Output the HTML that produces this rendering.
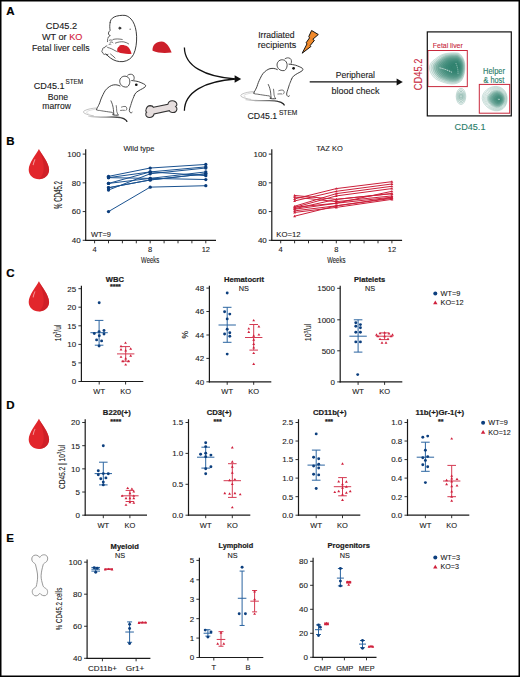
<!DOCTYPE html>
<html><head><meta charset="utf-8"><style>
html,body{margin:0;padding:0;background:#fff;overflow:hidden;}
svg{display:block;}
text{font-family:"Liberation Sans", sans-serif;}
</style></head><body>
<svg width="520" height="677" viewBox="0 0 520 677" font-family='"Liberation Sans", sans-serif'>
<rect x="0" y="0" width="520" height="677" fill="#fff"/>
<line x1="85.70" y1="149.30" x2="85.70" y2="240.90" stroke="#1a1a1a" stroke-width="1.2"/>
<line x1="82.70" y1="154.10" x2="85.70" y2="154.10" stroke="#1a1a1a" stroke-width="0.9"/>
<text x="80.70" y="156.95" font-size="8" text-anchor="end" fill="#1a1a1a" stroke="#1a1a1a" stroke-width="0.1">100</text>
<line x1="82.70" y1="182.83" x2="85.70" y2="182.83" stroke="#1a1a1a" stroke-width="0.9"/>
<text x="80.70" y="185.68" font-size="8" text-anchor="end" fill="#1a1a1a" stroke="#1a1a1a" stroke-width="0.1">80</text>
<line x1="82.70" y1="211.57" x2="85.70" y2="211.57" stroke="#1a1a1a" stroke-width="0.9"/>
<text x="80.70" y="214.42" font-size="8" text-anchor="end" fill="#1a1a1a" stroke="#1a1a1a" stroke-width="0.1">60</text>
<line x1="82.70" y1="240.30" x2="85.70" y2="240.30" stroke="#1a1a1a" stroke-width="0.9"/>
<text x="80.70" y="243.15" font-size="8" text-anchor="end" fill="#1a1a1a" stroke="#1a1a1a" stroke-width="0.1">40</text>
<line x1="85.10" y1="240.30" x2="216.00" y2="240.30" stroke="#1a1a1a" stroke-width="1.2"/>
<line x1="94.60" y1="240.30" x2="94.60" y2="243.30" stroke="#1a1a1a" stroke-width="0.9"/>
<line x1="108.50" y1="240.30" x2="108.50" y2="243.30" stroke="#1a1a1a" stroke-width="0.9"/>
<line x1="122.40" y1="240.30" x2="122.40" y2="243.30" stroke="#1a1a1a" stroke-width="0.9"/>
<line x1="136.30" y1="240.30" x2="136.30" y2="243.30" stroke="#1a1a1a" stroke-width="0.9"/>
<line x1="150.20" y1="240.30" x2="150.20" y2="243.30" stroke="#1a1a1a" stroke-width="0.9"/>
<line x1="164.10" y1="240.30" x2="164.10" y2="243.30" stroke="#1a1a1a" stroke-width="0.9"/>
<line x1="178.00" y1="240.30" x2="178.00" y2="243.30" stroke="#1a1a1a" stroke-width="0.9"/>
<line x1="191.90" y1="240.30" x2="191.90" y2="243.30" stroke="#1a1a1a" stroke-width="0.9"/>
<line x1="205.80" y1="240.30" x2="205.80" y2="243.30" stroke="#1a1a1a" stroke-width="0.9"/>
<text x="94.60" y="252.00" font-size="7.5" text-anchor="middle" fill="#1a1a1a" stroke="#1a1a1a" stroke-width="0.1">4</text>
<text x="150.20" y="252.00" font-size="7.5" text-anchor="middle" fill="#1a1a1a" stroke="#1a1a1a" stroke-width="0.1">8</text>
<text x="205.80" y="252.00" font-size="7.5" text-anchor="middle" fill="#1a1a1a" stroke="#1a1a1a" stroke-width="0.1">12</text>
<text x="150.20" y="263.00" font-size="8.6" text-anchor="middle" fill="#1a1a1a" stroke="#1a1a1a" stroke-width="0.1" textLength="18.2" lengthAdjust="spacingAndGlyphs">Weeks</text>
<text x="139.00" y="150.80" font-size="8" text-anchor="middle" fill="#1a1a1a" stroke="#1a1a1a" stroke-width="0.1" textLength="31" lengthAdjust="spacingAndGlyphs">Wild type</text>
<text x="91.00" y="236.60" font-size="7.5" text-anchor="start" fill="#1a1a1a" stroke="#1a1a1a" stroke-width="0.1" textLength="20" lengthAdjust="spacingAndGlyphs">WT=9</text>
<text x="61.70" y="195.00" font-size="10" text-anchor="middle" fill="#1a1a1a" stroke="#1a1a1a" stroke-width="0.1" textLength="28" lengthAdjust="spacingAndGlyphs" transform="rotate(-90 61.70 195)">% CD45.2</text>
<polyline points="108.50,211.57 150.20,187.14 205.80,185.71" fill="none" stroke="#1a5290" stroke-width="1.0"/>
<polyline points="108.50,176.37 150.20,168.03 205.80,164.44" fill="none" stroke="#1a5290" stroke-width="1.0"/>
<polyline points="108.50,177.66 150.20,171.91 205.80,166.88" fill="none" stroke="#1a5290" stroke-width="1.0"/>
<polyline points="108.50,183.41 150.20,178.38 205.80,171.91" fill="none" stroke="#1a5290" stroke-width="1.0"/>
<polyline points="108.50,187.72 150.20,179.96 205.80,173.78" fill="none" stroke="#1a5290" stroke-width="1.0"/>
<polyline points="108.50,190.02 150.20,173.78 205.80,168.03" fill="none" stroke="#1a5290" stroke-width="1.0"/>
<polyline points="108.50,177.66 150.20,178.38 205.80,179.53" fill="none" stroke="#1a5290" stroke-width="1.0"/>
<polyline points="108.50,183.41 150.20,171.91 205.80,175.65" fill="none" stroke="#1a5290" stroke-width="1.0"/>
<polyline points="108.50,187.72 150.20,179.96 205.80,173.78" fill="none" stroke="#1a5290" stroke-width="1.0"/>
<circle cx="108.50" cy="211.57" r="1.65" fill="#0b3d7c"/>
<circle cx="150.20" cy="187.14" r="1.65" fill="#0b3d7c"/>
<circle cx="205.80" cy="185.71" r="1.65" fill="#0b3d7c"/>
<circle cx="108.50" cy="176.37" r="1.65" fill="#0b3d7c"/>
<circle cx="150.20" cy="168.03" r="1.65" fill="#0b3d7c"/>
<circle cx="205.80" cy="164.44" r="1.65" fill="#0b3d7c"/>
<circle cx="108.50" cy="177.66" r="1.65" fill="#0b3d7c"/>
<circle cx="150.20" cy="171.91" r="1.65" fill="#0b3d7c"/>
<circle cx="205.80" cy="166.88" r="1.65" fill="#0b3d7c"/>
<circle cx="108.50" cy="183.41" r="1.65" fill="#0b3d7c"/>
<circle cx="150.20" cy="178.38" r="1.65" fill="#0b3d7c"/>
<circle cx="205.80" cy="171.91" r="1.65" fill="#0b3d7c"/>
<circle cx="108.50" cy="187.72" r="1.65" fill="#0b3d7c"/>
<circle cx="150.20" cy="179.96" r="1.65" fill="#0b3d7c"/>
<circle cx="205.80" cy="173.78" r="1.65" fill="#0b3d7c"/>
<circle cx="108.50" cy="190.02" r="1.65" fill="#0b3d7c"/>
<circle cx="150.20" cy="173.78" r="1.65" fill="#0b3d7c"/>
<circle cx="205.80" cy="168.03" r="1.65" fill="#0b3d7c"/>
<circle cx="108.50" cy="177.66" r="1.65" fill="#0b3d7c"/>
<circle cx="150.20" cy="178.38" r="1.65" fill="#0b3d7c"/>
<circle cx="205.80" cy="179.53" r="1.65" fill="#0b3d7c"/>
<circle cx="108.50" cy="183.41" r="1.65" fill="#0b3d7c"/>
<circle cx="150.20" cy="171.91" r="1.65" fill="#0b3d7c"/>
<circle cx="205.80" cy="175.65" r="1.65" fill="#0b3d7c"/>
<circle cx="108.50" cy="187.72" r="1.65" fill="#0b3d7c"/>
<circle cx="150.20" cy="179.96" r="1.65" fill="#0b3d7c"/>
<circle cx="205.80" cy="173.78" r="1.65" fill="#0b3d7c"/>
<line x1="271.80" y1="149.30" x2="271.80" y2="240.90" stroke="#1a1a1a" stroke-width="1.2"/>
<line x1="268.80" y1="154.10" x2="271.80" y2="154.10" stroke="#1a1a1a" stroke-width="0.9"/>
<text x="266.80" y="156.95" font-size="8" text-anchor="end" fill="#1a1a1a" stroke="#1a1a1a" stroke-width="0.1">100</text>
<line x1="268.80" y1="182.83" x2="271.80" y2="182.83" stroke="#1a1a1a" stroke-width="0.9"/>
<text x="266.80" y="185.68" font-size="8" text-anchor="end" fill="#1a1a1a" stroke="#1a1a1a" stroke-width="0.1">80</text>
<line x1="268.80" y1="211.57" x2="271.80" y2="211.57" stroke="#1a1a1a" stroke-width="0.9"/>
<text x="266.80" y="214.42" font-size="8" text-anchor="end" fill="#1a1a1a" stroke="#1a1a1a" stroke-width="0.1">60</text>
<line x1="268.80" y1="240.30" x2="271.80" y2="240.30" stroke="#1a1a1a" stroke-width="0.9"/>
<text x="266.80" y="243.15" font-size="8" text-anchor="end" fill="#1a1a1a" stroke="#1a1a1a" stroke-width="0.1">40</text>
<line x1="271.20" y1="240.30" x2="402.10" y2="240.30" stroke="#1a1a1a" stroke-width="1.2"/>
<line x1="280.70" y1="240.30" x2="280.70" y2="243.30" stroke="#1a1a1a" stroke-width="0.9"/>
<line x1="294.60" y1="240.30" x2="294.60" y2="243.30" stroke="#1a1a1a" stroke-width="0.9"/>
<line x1="308.50" y1="240.30" x2="308.50" y2="243.30" stroke="#1a1a1a" stroke-width="0.9"/>
<line x1="322.40" y1="240.30" x2="322.40" y2="243.30" stroke="#1a1a1a" stroke-width="0.9"/>
<line x1="336.30" y1="240.30" x2="336.30" y2="243.30" stroke="#1a1a1a" stroke-width="0.9"/>
<line x1="350.20" y1="240.30" x2="350.20" y2="243.30" stroke="#1a1a1a" stroke-width="0.9"/>
<line x1="364.10" y1="240.30" x2="364.10" y2="243.30" stroke="#1a1a1a" stroke-width="0.9"/>
<line x1="378.00" y1="240.30" x2="378.00" y2="243.30" stroke="#1a1a1a" stroke-width="0.9"/>
<line x1="391.90" y1="240.30" x2="391.90" y2="243.30" stroke="#1a1a1a" stroke-width="0.9"/>
<text x="280.70" y="252.00" font-size="7.5" text-anchor="middle" fill="#1a1a1a" stroke="#1a1a1a" stroke-width="0.1">4</text>
<text x="336.30" y="252.00" font-size="7.5" text-anchor="middle" fill="#1a1a1a" stroke="#1a1a1a" stroke-width="0.1">8</text>
<text x="391.90" y="252.00" font-size="7.5" text-anchor="middle" fill="#1a1a1a" stroke="#1a1a1a" stroke-width="0.1">12</text>
<text x="336.30" y="263.00" font-size="8.6" text-anchor="middle" fill="#1a1a1a" stroke="#1a1a1a" stroke-width="0.1" textLength="18.2" lengthAdjust="spacingAndGlyphs">Weeks</text>
<text x="329.50" y="150.80" font-size="8" text-anchor="middle" fill="#1a1a1a" stroke="#1a1a1a" stroke-width="0.1" textLength="26.5" lengthAdjust="spacingAndGlyphs">TAZ KO</text>
<text x="276.30" y="236.60" font-size="7.5" text-anchor="start" fill="#1a1a1a" stroke="#1a1a1a" stroke-width="0.1" textLength="24.3" lengthAdjust="spacingAndGlyphs">KO=12</text>
<polyline points="294.60,195.47 336.30,199.35 391.90,193.61" fill="none" stroke="#cc1f3a" stroke-width="1.0"/>
<polyline points="294.60,197.06 336.30,201.65 391.90,195.91" fill="none" stroke="#cc1f3a" stroke-width="1.0"/>
<polyline points="294.60,198.92 336.30,188.58 391.90,181.68" fill="none" stroke="#cc1f3a" stroke-width="1.0"/>
<polyline points="294.60,200.93 336.30,191.31 391.90,183.98" fill="none" stroke="#cc1f3a" stroke-width="1.0"/>
<polyline points="294.60,206.25 336.30,193.61 391.90,186.28" fill="none" stroke="#cc1f3a" stroke-width="1.0"/>
<polyline points="294.60,207.40 336.30,195.91 391.90,188.58" fill="none" stroke="#cc1f3a" stroke-width="1.0"/>
<polyline points="294.60,209.27 336.30,203.23 391.90,191.31" fill="none" stroke="#cc1f3a" stroke-width="1.0"/>
<polyline points="294.60,210.85 336.30,205.82 391.90,197.63" fill="none" stroke="#cc1f3a" stroke-width="1.0"/>
<polyline points="294.60,212.43 336.30,207.40 391.90,199.35" fill="none" stroke="#cc1f3a" stroke-width="1.0"/>
<polyline points="294.60,208.69 336.30,199.35 391.90,193.61" fill="none" stroke="#cc1f3a" stroke-width="1.0"/>
<polyline points="294.60,207.26 336.30,203.23 391.90,197.20" fill="none" stroke="#cc1f3a" stroke-width="1.0"/>
<polyline points="294.60,216.16 336.30,205.82 391.90,198.35" fill="none" stroke="#cc1f3a" stroke-width="1.0"/>
<path d="M294.60,194.11L296.03,196.51L293.17,196.51Z" fill="#cc1f3a"/>
<path d="M336.30,197.99L337.73,200.39L334.87,200.39Z" fill="#cc1f3a"/>
<path d="M391.90,192.24L393.33,194.65L390.47,194.65Z" fill="#cc1f3a"/>
<path d="M294.60,195.69L296.03,198.10L293.17,198.10Z" fill="#cc1f3a"/>
<path d="M336.30,200.29L337.73,202.69L334.87,202.69Z" fill="#cc1f3a"/>
<path d="M391.90,194.54L393.33,196.95L390.47,196.95Z" fill="#cc1f3a"/>
<path d="M294.60,197.56L296.03,199.96L293.17,199.96Z" fill="#cc1f3a"/>
<path d="M336.30,187.21L337.73,189.62L334.87,189.62Z" fill="#cc1f3a"/>
<path d="M391.90,180.32L393.33,182.72L390.47,182.72Z" fill="#cc1f3a"/>
<path d="M294.60,199.57L296.03,201.97L293.17,201.97Z" fill="#cc1f3a"/>
<path d="M336.30,189.94L337.73,192.35L334.87,192.35Z" fill="#cc1f3a"/>
<path d="M391.90,182.62L393.33,185.02L390.47,185.02Z" fill="#cc1f3a"/>
<path d="M294.60,204.89L296.03,207.29L293.17,207.29Z" fill="#cc1f3a"/>
<path d="M336.30,192.24L337.73,194.65L334.87,194.65Z" fill="#cc1f3a"/>
<path d="M391.90,184.92L393.33,187.32L390.47,187.32Z" fill="#cc1f3a"/>
<path d="M294.60,206.03L296.03,208.44L293.17,208.44Z" fill="#cc1f3a"/>
<path d="M336.30,194.54L337.73,196.95L334.87,196.95Z" fill="#cc1f3a"/>
<path d="M391.90,187.21L393.33,189.62L390.47,189.62Z" fill="#cc1f3a"/>
<path d="M294.60,207.90L296.03,210.31L293.17,210.31Z" fill="#cc1f3a"/>
<path d="M336.30,201.87L337.73,204.27L334.87,204.27Z" fill="#cc1f3a"/>
<path d="M391.90,189.94L393.33,192.35L390.47,192.35Z" fill="#cc1f3a"/>
<path d="M294.60,209.48L296.03,211.89L293.17,211.89Z" fill="#cc1f3a"/>
<path d="M336.30,204.45L337.73,206.86L334.87,206.86Z" fill="#cc1f3a"/>
<path d="M391.90,196.27L393.33,198.67L390.47,198.67Z" fill="#cc1f3a"/>
<path d="M294.60,211.06L296.03,213.47L293.17,213.47Z" fill="#cc1f3a"/>
<path d="M336.30,206.03L337.73,208.44L334.87,208.44Z" fill="#cc1f3a"/>
<path d="M391.90,197.99L393.33,200.39L390.47,200.39Z" fill="#cc1f3a"/>
<path d="M294.60,207.33L296.03,209.73L293.17,209.73Z" fill="#cc1f3a"/>
<path d="M336.30,197.99L337.73,200.39L334.87,200.39Z" fill="#cc1f3a"/>
<path d="M391.90,192.24L393.33,194.65L390.47,194.65Z" fill="#cc1f3a"/>
<path d="M294.60,205.89L296.03,208.30L293.17,208.30Z" fill="#cc1f3a"/>
<path d="M336.30,201.87L337.73,204.27L334.87,204.27Z" fill="#cc1f3a"/>
<path d="M391.90,195.83L393.33,198.24L390.47,198.24Z" fill="#cc1f3a"/>
<path d="M294.60,214.80L296.03,217.20L293.17,217.20Z" fill="#cc1f3a"/>
<path d="M336.30,204.45L337.73,206.86L334.87,206.86Z" fill="#cc1f3a"/>
<path d="M391.90,196.98L393.33,199.39L390.47,199.39Z" fill="#cc1f3a"/>
<line x1="81.40" y1="285.80" x2="81.40" y2="382.10" stroke="#1a1a1a" stroke-width="1.2"/>
<line x1="78.40" y1="288.70" x2="81.40" y2="288.70" stroke="#1a1a1a" stroke-width="0.9"/>
<text x="76.20" y="291.55" font-size="8" text-anchor="end" fill="#1a1a1a" stroke="#1a1a1a" stroke-width="0.1">25</text>
<line x1="78.40" y1="307.20" x2="81.40" y2="307.20" stroke="#1a1a1a" stroke-width="0.9"/>
<text x="76.20" y="310.05" font-size="8" text-anchor="end" fill="#1a1a1a" stroke="#1a1a1a" stroke-width="0.1">20</text>
<line x1="78.40" y1="325.80" x2="81.40" y2="325.80" stroke="#1a1a1a" stroke-width="0.9"/>
<text x="76.20" y="328.65" font-size="8" text-anchor="end" fill="#1a1a1a" stroke="#1a1a1a" stroke-width="0.1">15</text>
<line x1="78.40" y1="344.40" x2="81.40" y2="344.40" stroke="#1a1a1a" stroke-width="0.9"/>
<text x="76.20" y="347.25" font-size="8" text-anchor="end" fill="#1a1a1a" stroke="#1a1a1a" stroke-width="0.1">10</text>
<line x1="78.40" y1="362.90" x2="81.40" y2="362.90" stroke="#1a1a1a" stroke-width="0.9"/>
<text x="76.20" y="365.75" font-size="8" text-anchor="end" fill="#1a1a1a" stroke="#1a1a1a" stroke-width="0.1">5</text>
<line x1="78.40" y1="381.50" x2="81.40" y2="381.50" stroke="#1a1a1a" stroke-width="0.9"/>
<text x="76.20" y="384.35" font-size="8" text-anchor="end" fill="#1a1a1a" stroke="#1a1a1a" stroke-width="0.1">0</text>
<line x1="80.80" y1="381.50" x2="143.30" y2="381.50" stroke="#1a1a1a" stroke-width="1.2"/>
<line x1="99.20" y1="381.50" x2="99.20" y2="384.50" stroke="#1a1a1a" stroke-width="0.9"/>
<line x1="125.60" y1="381.50" x2="125.60" y2="384.50" stroke="#1a1a1a" stroke-width="0.9"/>
<text x="114.90" y="281.90" font-size="7.6" text-anchor="middle" font-weight="bold" fill="#1a1a1a" stroke="#1a1a1a" stroke-width="0.2" textLength="18.2" lengthAdjust="spacingAndGlyphs">WBC</text>
<text x="115.40" y="289.10" font-size="7" text-anchor="middle" font-weight="bold" fill="#1a1a1a" stroke="#1a1a1a" stroke-width="0.2">****</text>
<text x="99.20" y="393.70" font-size="7.5" text-anchor="middle" fill="#1a1a1a" stroke="#1a1a1a" stroke-width="0.1">WT</text>
<text x="125.60" y="393.70" font-size="7.5" text-anchor="middle" fill="#1a1a1a" stroke="#1a1a1a" stroke-width="0.1">KO</text>
<line x1="99.10" y1="320.40" x2="99.10" y2="345.20" stroke="#2a64a0" stroke-width="1.0"/>
<line x1="90.40" y1="332.70" x2="107.80" y2="332.70" stroke="#2a64a0" stroke-width="1.0"/>
<line x1="94.80" y1="320.40" x2="103.40" y2="320.40" stroke="#2a64a0" stroke-width="1.0"/>
<line x1="94.80" y1="345.20" x2="103.40" y2="345.20" stroke="#2a64a0" stroke-width="1.0"/>
<circle cx="99.20" cy="302.80" r="1.45" fill="#0c3f7e"/>
<circle cx="94.30" cy="333.50" r="1.45" fill="#0c3f7e"/>
<circle cx="99.10" cy="331.60" r="1.45" fill="#0c3f7e"/>
<circle cx="104.00" cy="330.50" r="1.45" fill="#0c3f7e"/>
<circle cx="104.00" cy="334.00" r="1.45" fill="#0c3f7e"/>
<circle cx="99.30" cy="335.80" r="1.45" fill="#0c3f7e"/>
<circle cx="96.60" cy="339.90" r="1.45" fill="#0c3f7e"/>
<circle cx="101.60" cy="340.90" r="1.45" fill="#0c3f7e"/>
<circle cx="99.10" cy="346.00" r="1.45" fill="#0c3f7e"/>
<line x1="125.70" y1="346.60" x2="125.70" y2="361.20" stroke="#d43a52" stroke-width="1.0"/>
<line x1="117.00" y1="353.90" x2="134.40" y2="353.90" stroke="#d43a52" stroke-width="1.0"/>
<line x1="121.40" y1="346.60" x2="130.00" y2="346.60" stroke="#d43a52" stroke-width="1.0"/>
<line x1="121.40" y1="361.20" x2="130.00" y2="361.20" stroke="#d43a52" stroke-width="1.0"/>
<path d="M125.50,341.44L126.93,343.84L124.07,343.84Z" fill="#d0203c"/>
<path d="M121.00,344.83L122.43,347.24L119.57,347.24Z" fill="#d0203c"/>
<path d="M130.70,347.24L132.13,349.64L129.27,349.64Z" fill="#d0203c"/>
<path d="M121.00,348.03L122.43,350.44L119.57,350.44Z" fill="#d0203c"/>
<path d="M125.70,349.03L127.13,351.44L124.27,351.44Z" fill="#d0203c"/>
<path d="M121.00,355.44L122.43,357.84L119.57,357.84Z" fill="#d0203c"/>
<path d="M130.70,354.33L132.13,356.74L129.27,356.74Z" fill="#d0203c"/>
<path d="M125.70,357.03L127.13,359.44L124.27,359.44Z" fill="#d0203c"/>
<path d="M122.90,359.83L124.33,362.24L121.47,362.24Z" fill="#d0203c"/>
<path d="M128.40,359.83L129.83,362.24L126.97,362.24Z" fill="#d0203c"/>
<path d="M125.70,363.13L127.13,365.54L124.27,365.54Z" fill="#d0203c"/>
<line x1="209.40" y1="285.80" x2="209.40" y2="382.40" stroke="#1a1a1a" stroke-width="1.2"/>
<line x1="206.40" y1="288.10" x2="209.40" y2="288.10" stroke="#1a1a1a" stroke-width="0.9"/>
<text x="204.20" y="290.95" font-size="8" text-anchor="end" fill="#1a1a1a" stroke="#1a1a1a" stroke-width="0.1">48</text>
<line x1="206.40" y1="311.50" x2="209.40" y2="311.50" stroke="#1a1a1a" stroke-width="0.9"/>
<text x="204.20" y="314.35" font-size="8" text-anchor="end" fill="#1a1a1a" stroke="#1a1a1a" stroke-width="0.1">46</text>
<line x1="206.40" y1="335.00" x2="209.40" y2="335.00" stroke="#1a1a1a" stroke-width="0.9"/>
<text x="204.20" y="337.85" font-size="8" text-anchor="end" fill="#1a1a1a" stroke="#1a1a1a" stroke-width="0.1">44</text>
<line x1="206.40" y1="358.40" x2="209.40" y2="358.40" stroke="#1a1a1a" stroke-width="0.9"/>
<text x="204.20" y="361.25" font-size="8" text-anchor="end" fill="#1a1a1a" stroke="#1a1a1a" stroke-width="0.1">42</text>
<line x1="206.40" y1="381.80" x2="209.40" y2="381.80" stroke="#1a1a1a" stroke-width="0.9"/>
<text x="204.20" y="384.65" font-size="8" text-anchor="end" fill="#1a1a1a" stroke="#1a1a1a" stroke-width="0.1">40</text>
<line x1="208.80" y1="381.80" x2="271.30" y2="381.80" stroke="#1a1a1a" stroke-width="1.2"/>
<line x1="227.20" y1="381.80" x2="227.20" y2="384.80" stroke="#1a1a1a" stroke-width="0.9"/>
<line x1="253.70" y1="381.80" x2="253.70" y2="384.80" stroke="#1a1a1a" stroke-width="0.9"/>
<text x="244.00" y="281.90" font-size="7.6" text-anchor="middle" font-weight="bold" fill="#1a1a1a" stroke="#1a1a1a" stroke-width="0.2" textLength="40" lengthAdjust="spacingAndGlyphs">Hematocrit</text>
<text x="243.80" y="290.90" font-size="7.3" text-anchor="middle" fill="#1a1a1a" stroke="#1a1a1a" stroke-width="0.1">NS</text>
<text x="227.20" y="393.70" font-size="7.5" text-anchor="middle" fill="#1a1a1a" stroke="#1a1a1a" stroke-width="0.1">WT</text>
<text x="253.70" y="393.70" font-size="7.5" text-anchor="middle" fill="#1a1a1a" stroke="#1a1a1a" stroke-width="0.1">KO</text>
<line x1="227.20" y1="307.30" x2="227.20" y2="342.30" stroke="#2a64a0" stroke-width="1.0"/>
<line x1="218.50" y1="325.00" x2="235.90" y2="325.00" stroke="#2a64a0" stroke-width="1.0"/>
<line x1="222.90" y1="307.30" x2="231.50" y2="307.30" stroke="#2a64a0" stroke-width="1.0"/>
<line x1="222.90" y1="342.30" x2="231.50" y2="342.30" stroke="#2a64a0" stroke-width="1.0"/>
<circle cx="227.20" cy="293.00" r="1.45" fill="#0c3f7e"/>
<circle cx="224.60" cy="311.70" r="1.45" fill="#0c3f7e"/>
<circle cx="229.80" cy="314.10" r="1.45" fill="#0c3f7e"/>
<circle cx="227.20" cy="318.90" r="1.45" fill="#0c3f7e"/>
<circle cx="227.20" cy="329.30" r="1.45" fill="#0c3f7e"/>
<circle cx="224.60" cy="334.00" r="1.45" fill="#0c3f7e"/>
<circle cx="229.80" cy="332.80" r="1.45" fill="#0c3f7e"/>
<circle cx="229.80" cy="336.20" r="1.45" fill="#0c3f7e"/>
<circle cx="227.20" cy="354.10" r="1.45" fill="#0c3f7e"/>
<line x1="253.70" y1="324.50" x2="253.70" y2="350.10" stroke="#d43a52" stroke-width="1.0"/>
<line x1="245.00" y1="337.50" x2="262.40" y2="337.50" stroke="#d43a52" stroke-width="1.0"/>
<line x1="249.40" y1="324.50" x2="258.00" y2="324.50" stroke="#d43a52" stroke-width="1.0"/>
<line x1="249.40" y1="350.10" x2="258.00" y2="350.10" stroke="#d43a52" stroke-width="1.0"/>
<path d="M253.70,318.94L255.13,321.34L252.27,321.34Z" fill="#d0203c"/>
<path d="M258.90,325.03L260.33,327.44L257.47,327.44Z" fill="#d0203c"/>
<path d="M248.80,327.13L250.23,329.54L247.37,329.54Z" fill="#d0203c"/>
<path d="M248.80,330.53L250.23,332.94L247.37,332.94Z" fill="#d0203c"/>
<path d="M258.90,333.13L260.33,335.54L257.47,335.54Z" fill="#d0203c"/>
<path d="M253.70,334.33L255.13,336.74L252.27,336.74Z" fill="#d0203c"/>
<path d="M253.70,338.33L255.13,340.74L252.27,340.74Z" fill="#d0203c"/>
<path d="M253.70,342.63L255.13,345.04L252.27,345.04Z" fill="#d0203c"/>
<path d="M253.70,346.13L255.13,348.54L252.27,348.54Z" fill="#d0203c"/>
<path d="M253.70,351.63L255.13,354.04L252.27,354.04Z" fill="#d0203c"/>
<path d="M253.70,362.53L255.13,364.94L252.27,364.94Z" fill="#d0203c"/>
<line x1="340.20" y1="285.80" x2="340.20" y2="382.50" stroke="#1a1a1a" stroke-width="1.2"/>
<line x1="337.20" y1="288.30" x2="340.20" y2="288.30" stroke="#1a1a1a" stroke-width="0.9"/>
<text x="335.00" y="291.15" font-size="8" text-anchor="end" fill="#1a1a1a" stroke="#1a1a1a" stroke-width="0.1">1500</text>
<line x1="337.20" y1="319.80" x2="340.20" y2="319.80" stroke="#1a1a1a" stroke-width="0.9"/>
<text x="335.00" y="322.65" font-size="8" text-anchor="end" fill="#1a1a1a" stroke="#1a1a1a" stroke-width="0.1">1000</text>
<line x1="337.20" y1="350.80" x2="340.20" y2="350.80" stroke="#1a1a1a" stroke-width="0.9"/>
<text x="335.00" y="353.65" font-size="8" text-anchor="end" fill="#1a1a1a" stroke="#1a1a1a" stroke-width="0.1">500</text>
<line x1="337.20" y1="381.90" x2="340.20" y2="381.90" stroke="#1a1a1a" stroke-width="0.9"/>
<text x="335.00" y="384.75" font-size="8" text-anchor="end" fill="#1a1a1a" stroke="#1a1a1a" stroke-width="0.1">0</text>
<line x1="339.60" y1="381.90" x2="402.30" y2="381.90" stroke="#1a1a1a" stroke-width="1.2"/>
<line x1="358.10" y1="381.90" x2="358.10" y2="384.90" stroke="#1a1a1a" stroke-width="0.9"/>
<line x1="384.60" y1="381.90" x2="384.60" y2="384.90" stroke="#1a1a1a" stroke-width="0.9"/>
<text x="369.60" y="281.90" font-size="7.6" text-anchor="middle" font-weight="bold" fill="#1a1a1a" stroke="#1a1a1a" stroke-width="0.2" textLength="31" lengthAdjust="spacingAndGlyphs">Platelets</text>
<text x="370.00" y="290.90" font-size="7.3" text-anchor="middle" fill="#1a1a1a" stroke="#1a1a1a" stroke-width="0.1">NS</text>
<text x="358.10" y="393.70" font-size="7.5" text-anchor="middle" fill="#1a1a1a" stroke="#1a1a1a" stroke-width="0.1">WT</text>
<text x="384.60" y="393.70" font-size="7.5" text-anchor="middle" fill="#1a1a1a" stroke="#1a1a1a" stroke-width="0.1">KO</text>
<line x1="358.10" y1="319.80" x2="358.10" y2="352.10" stroke="#2a64a0" stroke-width="1.0"/>
<line x1="349.40" y1="336.20" x2="366.80" y2="336.20" stroke="#2a64a0" stroke-width="1.0"/>
<line x1="353.80" y1="319.80" x2="362.40" y2="319.80" stroke="#2a64a0" stroke-width="1.0"/>
<line x1="353.80" y1="352.10" x2="362.40" y2="352.10" stroke="#2a64a0" stroke-width="1.0"/>
<circle cx="355.80" cy="322.70" r="1.45" fill="#0c3f7e"/>
<circle cx="360.40" cy="324.60" r="1.45" fill="#0c3f7e"/>
<circle cx="355.80" cy="326.20" r="1.45" fill="#0c3f7e"/>
<circle cx="360.40" cy="327.70" r="1.45" fill="#0c3f7e"/>
<circle cx="355.80" cy="332.30" r="1.45" fill="#0c3f7e"/>
<circle cx="360.40" cy="332.30" r="1.45" fill="#0c3f7e"/>
<circle cx="355.80" cy="341.90" r="1.45" fill="#0c3f7e"/>
<circle cx="360.40" cy="341.90" r="1.45" fill="#0c3f7e"/>
<circle cx="357.70" cy="374.60" r="1.45" fill="#0c3f7e"/>
<line x1="384.60" y1="332.90" x2="384.60" y2="339.60" stroke="#d43a52" stroke-width="1.0"/>
<line x1="375.90" y1="336.20" x2="393.30" y2="336.20" stroke="#d43a52" stroke-width="1.0"/>
<line x1="380.30" y1="332.90" x2="388.90" y2="332.90" stroke="#d43a52" stroke-width="1.0"/>
<line x1="380.30" y1="339.60" x2="388.90" y2="339.60" stroke="#d43a52" stroke-width="1.0"/>
<path d="M376.50,333.24L377.93,335.64L375.07,335.64Z" fill="#d0203c"/>
<path d="M380.00,331.83L381.43,334.24L378.57,334.24Z" fill="#d0203c"/>
<path d="M384.60,331.13L386.03,333.54L383.17,333.54Z" fill="#d0203c"/>
<path d="M389.00,332.03L390.43,334.44L387.57,334.44Z" fill="#d0203c"/>
<path d="M392.50,333.24L393.93,335.64L391.07,335.64Z" fill="#d0203c"/>
<path d="M378.00,334.94L379.43,337.34L376.57,337.34Z" fill="#d0203c"/>
<path d="M384.60,334.94L386.03,337.34L383.17,337.34Z" fill="#d0203c"/>
<path d="M391.00,334.94L392.43,337.34L389.57,337.34Z" fill="#d0203c"/>
<path d="M380.00,337.63L381.43,340.04L378.57,340.04Z" fill="#d0203c"/>
<path d="M388.00,337.44L389.43,339.84L386.57,339.84Z" fill="#d0203c"/>
<path d="M382.00,341.24L383.43,343.64L380.57,343.64Z" fill="#d0203c"/>
<path d="M386.00,341.24L387.43,343.64L384.57,343.64Z" fill="#d0203c"/>
<text transform="translate(61.0,333.0) rotate(-90) scale(0.687,1)" x="0" y="0" font-size="9.6" text-anchor="middle" fill="#1a1a1a" stroke="#1a1a1a" stroke-width="0.1">10<tspan font-size="6" dy="-3.6">3</tspan><tspan dy="3.6">/ul</tspan></text>
<text x="188.20" y="334.60" font-size="8.5" text-anchor="middle" fill="#1a1a1a" stroke="#1a1a1a" stroke-width="0.1" transform="rotate(-90 188.2 334.6)">%</text>
<text transform="translate(311.3,332.5) rotate(-90) scale(0.72,1)" x="0" y="0" font-size="9.6" text-anchor="middle" fill="#1a1a1a" stroke="#1a1a1a" stroke-width="0.1">10<tspan font-size="6" dy="-3.6">3</tspan><tspan dy="3.6">/ul</tspan></text>
<line x1="85.20" y1="419.20" x2="85.20" y2="515.80" stroke="#1a1a1a" stroke-width="1.2"/>
<line x1="82.20" y1="422.50" x2="85.20" y2="422.50" stroke="#1a1a1a" stroke-width="0.9"/>
<text x="80.00" y="425.35" font-size="8" text-anchor="end" fill="#1a1a1a" stroke="#1a1a1a" stroke-width="0.1">20</text>
<line x1="82.20" y1="445.68" x2="85.20" y2="445.68" stroke="#1a1a1a" stroke-width="0.9"/>
<text x="80.00" y="448.53" font-size="8" text-anchor="end" fill="#1a1a1a" stroke="#1a1a1a" stroke-width="0.1">15</text>
<line x1="82.20" y1="468.85" x2="85.20" y2="468.85" stroke="#1a1a1a" stroke-width="0.9"/>
<text x="80.00" y="471.70" font-size="8" text-anchor="end" fill="#1a1a1a" stroke="#1a1a1a" stroke-width="0.1">10</text>
<line x1="82.20" y1="492.03" x2="85.20" y2="492.03" stroke="#1a1a1a" stroke-width="0.9"/>
<text x="80.00" y="494.88" font-size="8" text-anchor="end" fill="#1a1a1a" stroke="#1a1a1a" stroke-width="0.1">5</text>
<line x1="82.20" y1="515.20" x2="85.20" y2="515.20" stroke="#1a1a1a" stroke-width="0.9"/>
<text x="80.00" y="518.05" font-size="8" text-anchor="end" fill="#1a1a1a" stroke="#1a1a1a" stroke-width="0.1">0</text>
<line x1="84.60" y1="515.20" x2="147.00" y2="515.20" stroke="#1a1a1a" stroke-width="1.2"/>
<line x1="103.30" y1="515.20" x2="103.30" y2="518.20" stroke="#1a1a1a" stroke-width="0.9"/>
<line x1="129.90" y1="515.20" x2="129.90" y2="518.20" stroke="#1a1a1a" stroke-width="0.9"/>
<text x="116.80" y="415.00" font-size="7.6" text-anchor="middle" font-weight="bold" fill="#1a1a1a" stroke="#1a1a1a" stroke-width="0.2" textLength="27.9" lengthAdjust="spacingAndGlyphs">B220(+)</text>
<text x="115.70" y="423.60" font-size="7" text-anchor="middle" font-weight="bold" fill="#1a1a1a" stroke="#1a1a1a" stroke-width="0.2">****</text>
<text x="103.30" y="528.20" font-size="7.5" text-anchor="middle" fill="#1a1a1a" stroke="#1a1a1a" stroke-width="0.1">WT</text>
<text x="129.90" y="528.20" font-size="7.5" text-anchor="middle" fill="#1a1a1a" stroke="#1a1a1a" stroke-width="0.1">KO</text>
<line x1="103.30" y1="462.20" x2="103.30" y2="484.90" stroke="#2a64a0" stroke-width="1.0"/>
<line x1="94.60" y1="473.60" x2="112.00" y2="473.60" stroke="#2a64a0" stroke-width="1.0"/>
<line x1="99.00" y1="462.20" x2="107.60" y2="462.20" stroke="#2a64a0" stroke-width="1.0"/>
<line x1="99.00" y1="484.90" x2="107.60" y2="484.90" stroke="#2a64a0" stroke-width="1.0"/>
<circle cx="103.30" cy="445.80" r="1.45" fill="#0c3f7e"/>
<circle cx="98.30" cy="470.80" r="1.45" fill="#0c3f7e"/>
<circle cx="98.30" cy="474.70" r="1.45" fill="#0c3f7e"/>
<circle cx="103.30" cy="473.60" r="1.45" fill="#0c3f7e"/>
<circle cx="108.30" cy="473.80" r="1.45" fill="#0c3f7e"/>
<circle cx="100.80" cy="478.80" r="1.45" fill="#0c3f7e"/>
<circle cx="105.90" cy="477.90" r="1.45" fill="#0c3f7e"/>
<circle cx="103.30" cy="482.10" r="1.45" fill="#0c3f7e"/>
<circle cx="103.30" cy="484.90" r="1.45" fill="#0c3f7e"/>
<line x1="129.90" y1="490.40" x2="129.90" y2="501.50" stroke="#d43a52" stroke-width="1.0"/>
<line x1="121.20" y1="495.80" x2="138.60" y2="495.80" stroke="#d43a52" stroke-width="1.0"/>
<line x1="125.60" y1="490.40" x2="134.20" y2="490.40" stroke="#d43a52" stroke-width="1.0"/>
<line x1="125.60" y1="501.50" x2="134.20" y2="501.50" stroke="#d43a52" stroke-width="1.0"/>
<path d="M127.70,486.63L129.13,489.04L126.27,489.04Z" fill="#d0203c"/>
<path d="M131.90,487.44L133.33,489.84L130.47,489.84Z" fill="#d0203c"/>
<path d="M133.80,490.13L135.23,492.54L132.37,492.54Z" fill="#d0203c"/>
<path d="M129.90,491.83L131.33,494.24L128.47,494.24Z" fill="#d0203c"/>
<path d="M122.20,494.44L123.63,496.84L120.77,496.84Z" fill="#d0203c"/>
<path d="M133.80,494.44L135.23,496.84L132.37,496.84Z" fill="#d0203c"/>
<path d="M126.00,496.83L127.43,499.24L124.57,499.24Z" fill="#d0203c"/>
<path d="M129.90,496.83L131.33,499.24L128.47,499.24Z" fill="#d0203c"/>
<path d="M133.80,496.83L135.23,499.24L132.37,499.24Z" fill="#d0203c"/>
<path d="M129.90,500.74L131.33,503.14L128.47,503.14Z" fill="#d0203c"/>
<path d="M133.80,501.44L135.23,503.84L132.37,503.84Z" fill="#d0203c"/>
<path d="M126.00,503.44L127.43,505.84L124.57,505.84Z" fill="#d0203c"/>
<line x1="188.50" y1="419.20" x2="188.50" y2="515.80" stroke="#1a1a1a" stroke-width="1.2"/>
<line x1="185.50" y1="422.50" x2="188.50" y2="422.50" stroke="#1a1a1a" stroke-width="0.9"/>
<text x="183.30" y="425.35" font-size="8" text-anchor="end" fill="#1a1a1a" stroke="#1a1a1a" stroke-width="0.1">1.5</text>
<line x1="185.50" y1="453.40" x2="188.50" y2="453.40" stroke="#1a1a1a" stroke-width="0.9"/>
<text x="183.30" y="456.25" font-size="8" text-anchor="end" fill="#1a1a1a" stroke="#1a1a1a" stroke-width="0.1">1.0</text>
<line x1="185.50" y1="484.30" x2="188.50" y2="484.30" stroke="#1a1a1a" stroke-width="0.9"/>
<text x="183.30" y="487.15" font-size="8" text-anchor="end" fill="#1a1a1a" stroke="#1a1a1a" stroke-width="0.1">0.5</text>
<line x1="185.50" y1="515.20" x2="188.50" y2="515.20" stroke="#1a1a1a" stroke-width="0.9"/>
<text x="183.30" y="518.05" font-size="8" text-anchor="end" fill="#1a1a1a" stroke="#1a1a1a" stroke-width="0.1">0.0</text>
<line x1="187.90" y1="515.20" x2="250.30" y2="515.20" stroke="#1a1a1a" stroke-width="1.2"/>
<line x1="205.70" y1="515.20" x2="205.70" y2="518.20" stroke="#1a1a1a" stroke-width="0.9"/>
<line x1="232.30" y1="515.20" x2="232.30" y2="518.20" stroke="#1a1a1a" stroke-width="0.9"/>
<text x="219.20" y="415.00" font-size="7.6" text-anchor="middle" font-weight="bold" fill="#1a1a1a" stroke="#1a1a1a" stroke-width="0.2" textLength="25" lengthAdjust="spacingAndGlyphs">CD3(+)</text>
<text x="217.70" y="423.60" font-size="7" text-anchor="middle" font-weight="bold" fill="#1a1a1a" stroke="#1a1a1a" stroke-width="0.2">***</text>
<text x="205.70" y="528.20" font-size="7.5" text-anchor="middle" fill="#1a1a1a" stroke="#1a1a1a" stroke-width="0.1">WT</text>
<text x="232.30" y="528.20" font-size="7.5" text-anchor="middle" fill="#1a1a1a" stroke="#1a1a1a" stroke-width="0.1">KO</text>
<line x1="205.70" y1="447.20" x2="205.70" y2="468.10" stroke="#2a64a0" stroke-width="1.0"/>
<line x1="197.00" y1="457.20" x2="214.40" y2="457.20" stroke="#2a64a0" stroke-width="1.0"/>
<line x1="201.40" y1="447.20" x2="210.00" y2="447.20" stroke="#2a64a0" stroke-width="1.0"/>
<line x1="201.40" y1="468.10" x2="210.00" y2="468.10" stroke="#2a64a0" stroke-width="1.0"/>
<circle cx="205.70" cy="442.70" r="1.45" fill="#0c3f7e"/>
<circle cx="205.70" cy="446.60" r="1.45" fill="#0c3f7e"/>
<circle cx="200.60" cy="454.30" r="1.45" fill="#0c3f7e"/>
<circle cx="205.70" cy="453.30" r="1.45" fill="#0c3f7e"/>
<circle cx="210.90" cy="455.10" r="1.45" fill="#0c3f7e"/>
<circle cx="205.70" cy="456.80" r="1.45" fill="#0c3f7e"/>
<circle cx="210.90" cy="466.70" r="1.45" fill="#0c3f7e"/>
<circle cx="205.70" cy="468.70" r="1.45" fill="#0c3f7e"/>
<circle cx="205.70" cy="473.70" r="1.45" fill="#0c3f7e"/>
<line x1="232.30" y1="463.70" x2="232.30" y2="497.40" stroke="#d43a52" stroke-width="1.0"/>
<line x1="223.60" y1="480.70" x2="241.00" y2="480.70" stroke="#d43a52" stroke-width="1.0"/>
<line x1="228.00" y1="463.70" x2="236.60" y2="463.70" stroke="#d43a52" stroke-width="1.0"/>
<line x1="228.00" y1="497.40" x2="236.60" y2="497.40" stroke="#d43a52" stroke-width="1.0"/>
<path d="M232.30,446.03L233.73,448.44L230.87,448.44Z" fill="#d0203c"/>
<path d="M232.30,460.24L233.73,462.64L230.87,462.64Z" fill="#d0203c"/>
<path d="M232.30,465.33L233.73,467.74L230.87,467.74Z" fill="#d0203c"/>
<path d="M232.30,471.24L233.73,473.64L230.87,473.64Z" fill="#d0203c"/>
<path d="M229.60,478.74L231.03,481.14L228.17,481.14Z" fill="#d0203c"/>
<path d="M234.90,477.94L236.33,480.34L233.47,480.34Z" fill="#d0203c"/>
<path d="M232.30,482.63L233.73,485.04L230.87,485.04Z" fill="#d0203c"/>
<path d="M224.80,491.74L226.23,494.14L223.37,494.14Z" fill="#d0203c"/>
<path d="M229.60,492.33L231.03,494.74L228.17,494.74Z" fill="#d0203c"/>
<path d="M234.90,491.74L236.33,494.14L233.47,494.14Z" fill="#d0203c"/>
<path d="M240.20,492.94L241.63,495.34L238.77,495.34Z" fill="#d0203c"/>
<path d="M232.30,505.94L233.73,508.34L230.87,508.34Z" fill="#d0203c"/>
<line x1="298.50" y1="419.20" x2="298.50" y2="515.80" stroke="#1a1a1a" stroke-width="1.2"/>
<line x1="295.50" y1="422.50" x2="298.50" y2="422.50" stroke="#1a1a1a" stroke-width="0.9"/>
<text x="293.30" y="425.35" font-size="8" text-anchor="end" fill="#1a1a1a" stroke="#1a1a1a" stroke-width="0.1">2.5</text>
<line x1="295.50" y1="441.04" x2="298.50" y2="441.04" stroke="#1a1a1a" stroke-width="0.9"/>
<text x="293.30" y="443.89" font-size="8" text-anchor="end" fill="#1a1a1a" stroke="#1a1a1a" stroke-width="0.1">2.0</text>
<line x1="295.50" y1="459.58" x2="298.50" y2="459.58" stroke="#1a1a1a" stroke-width="0.9"/>
<text x="293.30" y="462.43" font-size="8" text-anchor="end" fill="#1a1a1a" stroke="#1a1a1a" stroke-width="0.1">1.5</text>
<line x1="295.50" y1="478.12" x2="298.50" y2="478.12" stroke="#1a1a1a" stroke-width="0.9"/>
<text x="293.30" y="480.97" font-size="8" text-anchor="end" fill="#1a1a1a" stroke="#1a1a1a" stroke-width="0.1">1.0</text>
<line x1="295.50" y1="496.66" x2="298.50" y2="496.66" stroke="#1a1a1a" stroke-width="0.9"/>
<text x="293.30" y="499.51" font-size="8" text-anchor="end" fill="#1a1a1a" stroke="#1a1a1a" stroke-width="0.1">0.5</text>
<line x1="295.50" y1="515.20" x2="298.50" y2="515.20" stroke="#1a1a1a" stroke-width="0.9"/>
<text x="293.30" y="518.05" font-size="8" text-anchor="end" fill="#1a1a1a" stroke="#1a1a1a" stroke-width="0.1">0.0</text>
<line x1="297.90" y1="515.20" x2="360.30" y2="515.20" stroke="#1a1a1a" stroke-width="1.2"/>
<line x1="316.20" y1="515.20" x2="316.20" y2="518.20" stroke="#1a1a1a" stroke-width="0.9"/>
<line x1="342.50" y1="515.20" x2="342.50" y2="518.20" stroke="#1a1a1a" stroke-width="0.9"/>
<text x="329.70" y="415.00" font-size="7.6" text-anchor="middle" font-weight="bold" fill="#1a1a1a" stroke="#1a1a1a" stroke-width="0.2" textLength="33.6" lengthAdjust="spacingAndGlyphs">CD11b(+)</text>
<text x="329.00" y="423.60" font-size="7" text-anchor="middle" font-weight="bold" fill="#1a1a1a" stroke="#1a1a1a" stroke-width="0.2">***</text>
<text x="316.20" y="528.20" font-size="7.5" text-anchor="middle" fill="#1a1a1a" stroke="#1a1a1a" stroke-width="0.1">WT</text>
<text x="342.50" y="528.20" font-size="7.5" text-anchor="middle" fill="#1a1a1a" stroke="#1a1a1a" stroke-width="0.1">KO</text>
<line x1="316.20" y1="450.10" x2="316.20" y2="480.20" stroke="#2a64a0" stroke-width="1.0"/>
<line x1="307.50" y1="465.10" x2="324.90" y2="465.10" stroke="#2a64a0" stroke-width="1.0"/>
<line x1="311.90" y1="450.10" x2="320.50" y2="450.10" stroke="#2a64a0" stroke-width="1.0"/>
<line x1="311.90" y1="480.20" x2="320.50" y2="480.20" stroke="#2a64a0" stroke-width="1.0"/>
<circle cx="316.20" cy="433.90" r="1.45" fill="#0c3f7e"/>
<circle cx="313.60" cy="457.20" r="1.45" fill="#0c3f7e"/>
<circle cx="318.70" cy="458.70" r="1.45" fill="#0c3f7e"/>
<circle cx="313.60" cy="466.00" r="1.45" fill="#0c3f7e"/>
<circle cx="318.70" cy="464.30" r="1.45" fill="#0c3f7e"/>
<circle cx="318.70" cy="468.00" r="1.45" fill="#0c3f7e"/>
<circle cx="313.60" cy="474.30" r="1.45" fill="#0c3f7e"/>
<circle cx="318.70" cy="474.90" r="1.45" fill="#0c3f7e"/>
<circle cx="316.20" cy="488.50" r="1.45" fill="#0c3f7e"/>
<line x1="342.50" y1="477.60" x2="342.50" y2="495.80" stroke="#d43a52" stroke-width="1.0"/>
<line x1="333.80" y1="486.70" x2="351.20" y2="486.70" stroke="#d43a52" stroke-width="1.0"/>
<line x1="338.20" y1="477.60" x2="346.80" y2="477.60" stroke="#d43a52" stroke-width="1.0"/>
<line x1="338.20" y1="495.80" x2="346.80" y2="495.80" stroke="#d43a52" stroke-width="1.0"/>
<path d="M342.50,462.33L343.93,464.74L341.07,464.74Z" fill="#d0203c"/>
<path d="M338.70,480.03L340.13,482.44L337.27,482.44Z" fill="#d0203c"/>
<path d="M346.40,480.33L347.83,482.74L344.97,482.74Z" fill="#d0203c"/>
<path d="M342.50,482.74L343.93,485.14L341.07,485.14Z" fill="#d0203c"/>
<path d="M346.40,485.33L347.83,487.74L344.97,487.74Z" fill="#d0203c"/>
<path d="M342.50,486.24L343.93,488.64L341.07,488.64Z" fill="#d0203c"/>
<path d="M334.80,490.63L336.23,493.04L333.37,493.04Z" fill="#d0203c"/>
<path d="M338.70,489.74L340.13,492.14L337.27,492.14Z" fill="#d0203c"/>
<path d="M346.40,491.24L347.83,493.64L344.97,493.64Z" fill="#d0203c"/>
<path d="M350.20,489.83L351.63,492.24L348.77,492.24Z" fill="#d0203c"/>
<path d="M342.50,493.03L343.93,495.44L341.07,495.44Z" fill="#d0203c"/>
<path d="M342.50,498.53L343.93,500.94L341.07,500.94Z" fill="#d0203c"/>
<line x1="407.50" y1="419.20" x2="407.50" y2="515.80" stroke="#1a1a1a" stroke-width="1.2"/>
<line x1="404.50" y1="422.50" x2="407.50" y2="422.50" stroke="#1a1a1a" stroke-width="0.9"/>
<text x="402.30" y="425.35" font-size="8" text-anchor="end" fill="#1a1a1a" stroke="#1a1a1a" stroke-width="0.1">1.0</text>
<line x1="404.50" y1="441.04" x2="407.50" y2="441.04" stroke="#1a1a1a" stroke-width="0.9"/>
<text x="402.30" y="443.89" font-size="8" text-anchor="end" fill="#1a1a1a" stroke="#1a1a1a" stroke-width="0.1">0.8</text>
<line x1="404.50" y1="459.58" x2="407.50" y2="459.58" stroke="#1a1a1a" stroke-width="0.9"/>
<text x="402.30" y="462.43" font-size="8" text-anchor="end" fill="#1a1a1a" stroke="#1a1a1a" stroke-width="0.1">0.6</text>
<line x1="404.50" y1="478.12" x2="407.50" y2="478.12" stroke="#1a1a1a" stroke-width="0.9"/>
<text x="402.30" y="480.97" font-size="8" text-anchor="end" fill="#1a1a1a" stroke="#1a1a1a" stroke-width="0.1">0.4</text>
<line x1="404.50" y1="496.66" x2="407.50" y2="496.66" stroke="#1a1a1a" stroke-width="0.9"/>
<text x="402.30" y="499.51" font-size="8" text-anchor="end" fill="#1a1a1a" stroke="#1a1a1a" stroke-width="0.1">0.2</text>
<line x1="404.50" y1="515.20" x2="407.50" y2="515.20" stroke="#1a1a1a" stroke-width="0.9"/>
<text x="402.30" y="518.05" font-size="8" text-anchor="end" fill="#1a1a1a" stroke="#1a1a1a" stroke-width="0.1">0.0</text>
<line x1="406.90" y1="515.20" x2="469.30" y2="515.20" stroke="#1a1a1a" stroke-width="1.2"/>
<line x1="425.40" y1="515.20" x2="425.40" y2="518.20" stroke="#1a1a1a" stroke-width="0.9"/>
<line x1="451.70" y1="515.20" x2="451.70" y2="518.20" stroke="#1a1a1a" stroke-width="0.9"/>
<text x="439.90" y="415.00" font-size="7.6" text-anchor="middle" font-weight="bold" fill="#1a1a1a" stroke="#1a1a1a" stroke-width="0.2" textLength="48.6" lengthAdjust="spacingAndGlyphs">11b(+)Gr-1(+)</text>
<text x="440.80" y="423.60" font-size="7" text-anchor="middle" font-weight="bold" fill="#1a1a1a" stroke="#1a1a1a" stroke-width="0.2">**</text>
<text x="425.40" y="528.20" font-size="7.5" text-anchor="middle" fill="#1a1a1a" stroke="#1a1a1a" stroke-width="0.1">WT</text>
<text x="451.70" y="528.20" font-size="7.5" text-anchor="middle" fill="#1a1a1a" stroke="#1a1a1a" stroke-width="0.1">KO</text>
<line x1="425.40" y1="442.20" x2="425.40" y2="471.30" stroke="#2a64a0" stroke-width="1.0"/>
<line x1="416.70" y1="457.20" x2="434.10" y2="457.20" stroke="#2a64a0" stroke-width="1.0"/>
<line x1="421.10" y1="442.20" x2="429.70" y2="442.20" stroke="#2a64a0" stroke-width="1.0"/>
<line x1="421.10" y1="471.30" x2="429.70" y2="471.30" stroke="#2a64a0" stroke-width="1.0"/>
<circle cx="422.80" cy="437.30" r="1.45" fill="#0c3f7e"/>
<circle cx="427.70" cy="436.10" r="1.45" fill="#0c3f7e"/>
<circle cx="425.40" cy="450.30" r="1.45" fill="#0c3f7e"/>
<circle cx="422.80" cy="457.80" r="1.45" fill="#0c3f7e"/>
<circle cx="427.70" cy="456.60" r="1.45" fill="#0c3f7e"/>
<circle cx="425.40" cy="460.40" r="1.45" fill="#0c3f7e"/>
<circle cx="422.80" cy="464.80" r="1.45" fill="#0c3f7e"/>
<circle cx="427.70" cy="466.80" r="1.45" fill="#0c3f7e"/>
<circle cx="425.40" cy="482.60" r="1.45" fill="#0c3f7e"/>
<line x1="451.70" y1="465.40" x2="451.70" y2="496.70" stroke="#d43a52" stroke-width="1.0"/>
<line x1="443.00" y1="481.00" x2="460.40" y2="481.00" stroke="#d43a52" stroke-width="1.0"/>
<line x1="447.40" y1="465.40" x2="456.00" y2="465.40" stroke="#d43a52" stroke-width="1.0"/>
<line x1="447.40" y1="496.70" x2="456.00" y2="496.70" stroke="#d43a52" stroke-width="1.0"/>
<path d="M451.70,437.13L453.13,439.54L450.27,439.54Z" fill="#d0203c"/>
<path d="M451.70,474.44L453.13,476.84L450.27,476.84Z" fill="#d0203c"/>
<path d="M451.70,477.03L453.13,479.44L450.27,479.44Z" fill="#d0203c"/>
<path d="M446.60,478.83L448.03,481.24L445.17,481.24Z" fill="#d0203c"/>
<path d="M457.00,477.63L458.43,480.04L455.57,480.04Z" fill="#d0203c"/>
<path d="M451.70,480.03L453.13,482.44L450.27,482.44Z" fill="#d0203c"/>
<path d="M446.60,482.74L448.03,485.14L445.17,485.14Z" fill="#d0203c"/>
<path d="M457.00,484.13L458.43,486.54L455.57,486.54Z" fill="#d0203c"/>
<path d="M451.70,484.74L453.13,487.14L450.27,487.14Z" fill="#d0203c"/>
<path d="M451.70,490.03L453.13,492.44L450.27,492.44Z" fill="#d0203c"/>
<path d="M451.70,495.33L453.13,497.74L450.27,497.74Z" fill="#d0203c"/>
<path d="M451.70,499.24L453.13,501.64L450.27,501.64Z" fill="#d0203c"/>
<text transform="translate(64.8,467.0) rotate(-90) scale(0.687,1)" x="0" y="0" font-size="9.6" text-anchor="middle" fill="#1a1a1a" stroke="#1a1a1a" stroke-width="0.1">CD45.2 | 10<tspan font-size="6" dy="-3.6">3</tspan><tspan dy="3.6">/ul</tspan></text>
<line x1="87.10" y1="559.40" x2="87.10" y2="658.90" stroke="#1a1a1a" stroke-width="1.2"/>
<line x1="84.10" y1="562.15" x2="87.10" y2="562.15" stroke="#1a1a1a" stroke-width="0.9"/>
<text x="81.90" y="565.00" font-size="8" text-anchor="end" fill="#1a1a1a" stroke="#1a1a1a" stroke-width="0.1">100</text>
<line x1="84.10" y1="594.20" x2="87.10" y2="594.20" stroke="#1a1a1a" stroke-width="0.9"/>
<text x="81.90" y="597.05" font-size="8" text-anchor="end" fill="#1a1a1a" stroke="#1a1a1a" stroke-width="0.1">80</text>
<line x1="84.10" y1="626.25" x2="87.10" y2="626.25" stroke="#1a1a1a" stroke-width="0.9"/>
<text x="81.90" y="629.10" font-size="8" text-anchor="end" fill="#1a1a1a" stroke="#1a1a1a" stroke-width="0.1">60</text>
<line x1="84.10" y1="658.30" x2="87.10" y2="658.30" stroke="#1a1a1a" stroke-width="0.9"/>
<text x="81.90" y="661.15" font-size="8" text-anchor="end" fill="#1a1a1a" stroke="#1a1a1a" stroke-width="0.1">40</text>
<line x1="86.50" y1="658.30" x2="150.40" y2="658.30" stroke="#1a1a1a" stroke-width="1.2"/>
<line x1="102.40" y1="658.30" x2="102.40" y2="661.30" stroke="#1a1a1a" stroke-width="0.9"/>
<line x1="136.10" y1="658.30" x2="136.10" y2="661.30" stroke="#1a1a1a" stroke-width="0.9"/>
<text x="124.70" y="548.70" font-size="7.6" text-anchor="middle" font-weight="bold" fill="#1a1a1a" stroke="#1a1a1a" stroke-width="0.2" textLength="28.2" lengthAdjust="spacingAndGlyphs">Myeloid</text>
<text x="120.00" y="558.10" font-size="7.3" text-anchor="middle" fill="#1a1a1a" stroke="#1a1a1a" stroke-width="0.1">NS</text>
<text x="102.40" y="671.20" font-size="7.5" text-anchor="middle" fill="#1a1a1a" stroke="#1a1a1a" stroke-width="0.1" textLength="28.9" lengthAdjust="spacingAndGlyphs">CD11b+</text>
<text x="135.00" y="671.20" font-size="7.5" text-anchor="middle" fill="#1a1a1a" stroke="#1a1a1a" stroke-width="0.1" textLength="18.5" lengthAdjust="spacingAndGlyphs">Gr1+</text>
<line x1="95.70" y1="567.44" x2="95.70" y2="571.12" stroke="#2a64a0" stroke-width="1.0"/>
<line x1="91.40" y1="569.20" x2="100.00" y2="569.20" stroke="#2a64a0" stroke-width="1.0"/>
<line x1="91.40" y1="567.44" x2="100.00" y2="567.44" stroke="#2a64a0" stroke-width="1.0"/>
<line x1="91.40" y1="571.12" x2="100.00" y2="571.12" stroke="#2a64a0" stroke-width="1.0"/>
<circle cx="94.20" cy="567.76" r="1.45" fill="#0c3f7e"/>
<circle cx="97.20" cy="568.24" r="1.45" fill="#0c3f7e"/>
<circle cx="95.70" cy="572.25" r="1.45" fill="#0c3f7e"/>
<line x1="108.70" y1="568.88" x2="108.70" y2="569.52" stroke="#d43a52" stroke-width="1.0"/>
<line x1="104.40" y1="569.20" x2="113.00" y2="569.20" stroke="#d43a52" stroke-width="1.0"/>
<line x1="104.40" y1="568.88" x2="113.00" y2="568.88" stroke="#d43a52" stroke-width="1.0"/>
<line x1="104.40" y1="569.52" x2="113.00" y2="569.52" stroke="#d43a52" stroke-width="1.0"/>
<path d="M105.30,568.16L106.73,570.56L103.87,570.56Z" fill="#d0203c"/>
<path d="M108.70,567.68L110.13,570.08L107.27,570.08Z" fill="#d0203c"/>
<path d="M112.00,568.00L113.43,570.40L110.57,570.40Z" fill="#d0203c"/>
<line x1="129.60" y1="621.92" x2="129.60" y2="642.27" stroke="#2a64a0" stroke-width="1.0"/>
<line x1="125.30" y1="632.02" x2="133.90" y2="632.02" stroke="#2a64a0" stroke-width="1.0"/>
<line x1="127.10" y1="621.92" x2="132.10" y2="621.92" stroke="#2a64a0" stroke-width="1.0"/>
<line x1="127.10" y1="642.27" x2="132.10" y2="642.27" stroke="#2a64a0" stroke-width="1.0"/>
<circle cx="129.60" cy="624.33" r="1.45" fill="#0c3f7e"/>
<circle cx="129.60" cy="628.49" r="1.45" fill="#0c3f7e"/>
<circle cx="129.60" cy="643.56" r="1.45" fill="#0c3f7e"/>
<line x1="142.30" y1="622.24" x2="142.30" y2="622.88" stroke="#d43a52" stroke-width="1.0"/>
<line x1="138.00" y1="622.56" x2="146.60" y2="622.56" stroke="#d43a52" stroke-width="1.0"/>
<line x1="138.00" y1="622.24" x2="146.60" y2="622.24" stroke="#d43a52" stroke-width="1.0"/>
<line x1="138.00" y1="622.88" x2="146.60" y2="622.88" stroke="#d43a52" stroke-width="1.0"/>
<path d="M139.00,621.52L140.43,623.92L137.57,623.92Z" fill="#d0203c"/>
<path d="M142.30,621.04L143.73,623.44L140.87,623.44Z" fill="#d0203c"/>
<path d="M145.60,621.20L147.03,623.60L144.17,623.60Z" fill="#d0203c"/>
<text x="62.00" y="609.00" font-size="9.8" text-anchor="middle" fill="#1a1a1a" stroke="#1a1a1a" stroke-width="0.1" textLength="42.5" lengthAdjust="spacingAndGlyphs" transform="rotate(-90 62.0 609)">% CD45.2 cells</text>
<line x1="199.40" y1="557.70" x2="199.40" y2="658.10" stroke="#1a1a1a" stroke-width="1.2"/>
<line x1="196.40" y1="560.40" x2="199.40" y2="560.40" stroke="#1a1a1a" stroke-width="0.9"/>
<text x="194.20" y="563.25" font-size="8" text-anchor="end" fill="#1a1a1a" stroke="#1a1a1a" stroke-width="0.1">5</text>
<line x1="196.40" y1="579.82" x2="199.40" y2="579.82" stroke="#1a1a1a" stroke-width="0.9"/>
<text x="194.20" y="582.67" font-size="8" text-anchor="end" fill="#1a1a1a" stroke="#1a1a1a" stroke-width="0.1">4</text>
<line x1="196.40" y1="599.24" x2="199.40" y2="599.24" stroke="#1a1a1a" stroke-width="0.9"/>
<text x="194.20" y="602.09" font-size="8" text-anchor="end" fill="#1a1a1a" stroke="#1a1a1a" stroke-width="0.1">3</text>
<line x1="196.40" y1="618.66" x2="199.40" y2="618.66" stroke="#1a1a1a" stroke-width="0.9"/>
<text x="194.20" y="621.51" font-size="8" text-anchor="end" fill="#1a1a1a" stroke="#1a1a1a" stroke-width="0.1">2</text>
<line x1="196.40" y1="638.08" x2="199.40" y2="638.08" stroke="#1a1a1a" stroke-width="0.9"/>
<text x="194.20" y="640.93" font-size="8" text-anchor="end" fill="#1a1a1a" stroke="#1a1a1a" stroke-width="0.1">1</text>
<line x1="196.40" y1="657.50" x2="199.40" y2="657.50" stroke="#1a1a1a" stroke-width="0.9"/>
<text x="194.20" y="660.35" font-size="8" text-anchor="end" fill="#1a1a1a" stroke="#1a1a1a" stroke-width="0.1">0</text>
<line x1="198.80" y1="657.50" x2="263.30" y2="657.50" stroke="#1a1a1a" stroke-width="1.2"/>
<line x1="213.80" y1="657.50" x2="213.80" y2="660.50" stroke="#1a1a1a" stroke-width="0.9"/>
<line x1="247.90" y1="657.50" x2="247.90" y2="660.50" stroke="#1a1a1a" stroke-width="0.9"/>
<text x="235.80" y="548.40" font-size="7.6" text-anchor="middle" font-weight="bold" fill="#1a1a1a" stroke="#1a1a1a" stroke-width="0.2" textLength="34.6" lengthAdjust="spacingAndGlyphs">Lymphoid</text>
<text x="232.50" y="558.10" font-size="7.3" text-anchor="middle" fill="#1a1a1a" stroke="#1a1a1a" stroke-width="0.1">NS</text>
<text x="213.80" y="670.40" font-size="7.5" text-anchor="middle" fill="#1a1a1a" stroke="#1a1a1a" stroke-width="0.1">T</text>
<text x="247.90" y="670.40" font-size="7.5" text-anchor="middle" fill="#1a1a1a" stroke="#1a1a1a" stroke-width="0.1">B</text>
<line x1="207.90" y1="629.73" x2="207.90" y2="636.14" stroke="#2a64a0" stroke-width="1.0"/>
<line x1="203.60" y1="633.23" x2="212.20" y2="633.23" stroke="#2a64a0" stroke-width="1.0"/>
<line x1="205.40" y1="629.73" x2="210.40" y2="629.73" stroke="#2a64a0" stroke-width="1.0"/>
<line x1="205.40" y1="636.14" x2="210.40" y2="636.14" stroke="#2a64a0" stroke-width="1.0"/>
<circle cx="205.20" cy="630.12" r="1.45" fill="#0c3f7e"/>
<circle cx="211.00" cy="632.06" r="1.45" fill="#0c3f7e"/>
<circle cx="207.90" cy="637.11" r="1.45" fill="#0c3f7e"/>
<line x1="221.00" y1="631.67" x2="221.00" y2="646.24" stroke="#d43a52" stroke-width="1.0"/>
<line x1="216.70" y1="639.44" x2="225.30" y2="639.44" stroke="#d43a52" stroke-width="1.0"/>
<line x1="218.50" y1="631.67" x2="223.50" y2="631.67" stroke="#d43a52" stroke-width="1.0"/>
<line x1="218.50" y1="646.24" x2="223.50" y2="646.24" stroke="#d43a52" stroke-width="1.0"/>
<path d="M221.00,631.28L222.43,633.68L219.57,633.68Z" fill="#d0203c"/>
<path d="M217.70,642.35L219.13,644.75L216.27,644.75Z" fill="#d0203c"/>
<path d="M223.80,642.35L225.23,644.75L222.37,644.75Z" fill="#d0203c"/>
<line x1="242.10" y1="571.08" x2="242.10" y2="625.46" stroke="#2a64a0" stroke-width="1.0"/>
<line x1="237.80" y1="598.27" x2="246.40" y2="598.27" stroke="#2a64a0" stroke-width="1.0"/>
<line x1="239.60" y1="571.08" x2="244.60" y2="571.08" stroke="#2a64a0" stroke-width="1.0"/>
<line x1="239.60" y1="625.46" x2="244.60" y2="625.46" stroke="#2a64a0" stroke-width="1.0"/>
<circle cx="242.10" cy="567.20" r="1.45" fill="#0c3f7e"/>
<circle cx="239.20" cy="613.80" r="1.45" fill="#0c3f7e"/>
<circle cx="245.40" cy="613.80" r="1.45" fill="#0c3f7e"/>
<line x1="254.60" y1="590.50" x2="254.60" y2="611.86" stroke="#d43a52" stroke-width="1.0"/>
<line x1="250.30" y1="601.18" x2="258.90" y2="601.18" stroke="#d43a52" stroke-width="1.0"/>
<line x1="252.10" y1="590.50" x2="257.10" y2="590.50" stroke="#d43a52" stroke-width="1.0"/>
<line x1="252.10" y1="611.86" x2="257.10" y2="611.86" stroke="#d43a52" stroke-width="1.0"/>
<path d="M254.60,590.11L256.03,592.51L253.17,592.51Z" fill="#d0203c"/>
<path d="M254.60,597.88L256.03,600.28L253.17,600.28Z" fill="#d0203c"/>
<path d="M254.60,612.44L256.03,614.84L253.17,614.84Z" fill="#d0203c"/>
<line x1="313.10" y1="557.70" x2="313.10" y2="657.90" stroke="#1a1a1a" stroke-width="1.2"/>
<line x1="310.10" y1="561.30" x2="313.10" y2="561.30" stroke="#1a1a1a" stroke-width="0.9"/>
<text x="307.90" y="564.15" font-size="8" text-anchor="end" fill="#1a1a1a" stroke="#1a1a1a" stroke-width="0.1">80</text>
<line x1="310.10" y1="585.30" x2="313.10" y2="585.30" stroke="#1a1a1a" stroke-width="0.9"/>
<text x="307.90" y="588.15" font-size="8" text-anchor="end" fill="#1a1a1a" stroke="#1a1a1a" stroke-width="0.1">60</text>
<line x1="310.10" y1="609.30" x2="313.10" y2="609.30" stroke="#1a1a1a" stroke-width="0.9"/>
<text x="307.90" y="612.15" font-size="8" text-anchor="end" fill="#1a1a1a" stroke="#1a1a1a" stroke-width="0.1">40</text>
<line x1="310.10" y1="633.30" x2="313.10" y2="633.30" stroke="#1a1a1a" stroke-width="0.9"/>
<text x="307.90" y="636.15" font-size="8" text-anchor="end" fill="#1a1a1a" stroke="#1a1a1a" stroke-width="0.1">20</text>
<line x1="310.10" y1="657.30" x2="313.10" y2="657.30" stroke="#1a1a1a" stroke-width="0.9"/>
<text x="307.90" y="660.15" font-size="8" text-anchor="end" fill="#1a1a1a" stroke="#1a1a1a" stroke-width="0.1">0</text>
<line x1="312.50" y1="657.30" x2="376.50" y2="657.30" stroke="#1a1a1a" stroke-width="1.2"/>
<line x1="322.30" y1="657.30" x2="322.30" y2="660.30" stroke="#1a1a1a" stroke-width="0.9"/>
<line x1="344.40" y1="657.30" x2="344.40" y2="660.30" stroke="#1a1a1a" stroke-width="0.9"/>
<line x1="366.50" y1="657.30" x2="366.50" y2="660.30" stroke="#1a1a1a" stroke-width="0.9"/>
<text x="348.70" y="548.40" font-size="7.6" text-anchor="middle" font-weight="bold" fill="#1a1a1a" stroke="#1a1a1a" stroke-width="0.2" textLength="42.3" lengthAdjust="spacingAndGlyphs">Progenitors</text>
<text x="344.80" y="558.10" font-size="7.3" text-anchor="middle" fill="#1a1a1a" stroke="#1a1a1a" stroke-width="0.1">NS</text>
<text x="322.50" y="670.80" font-size="7.5" text-anchor="middle" fill="#1a1a1a" stroke="#1a1a1a" stroke-width="0.1" textLength="17" lengthAdjust="spacingAndGlyphs">CMP</text>
<text x="344.80" y="670.80" font-size="7.5" text-anchor="middle" fill="#1a1a1a" stroke="#1a1a1a" stroke-width="0.1" textLength="17.3" lengthAdjust="spacingAndGlyphs">GMP</text>
<text x="366.70" y="670.80" font-size="7.5" text-anchor="middle" fill="#1a1a1a" stroke="#1a1a1a" stroke-width="0.1" textLength="15.8" lengthAdjust="spacingAndGlyphs">MEP</text>
<line x1="318.50" y1="624.90" x2="318.50" y2="634.50" stroke="#2a64a0" stroke-width="1.0"/>
<line x1="315.00" y1="629.70" x2="322.00" y2="629.70" stroke="#2a64a0" stroke-width="1.0"/>
<line x1="316.00" y1="624.90" x2="321.00" y2="624.90" stroke="#2a64a0" stroke-width="1.0"/>
<line x1="316.00" y1="634.50" x2="321.00" y2="634.50" stroke="#2a64a0" stroke-width="1.0"/>
<circle cx="318.50" cy="625.02" r="1.45" fill="#0c3f7e"/>
<circle cx="320.30" cy="627.30" r="1.45" fill="#0c3f7e"/>
<circle cx="318.50" cy="635.58" r="1.45" fill="#0c3f7e"/>
<line x1="326.50" y1="622.98" x2="326.50" y2="624.42" stroke="#d43a52" stroke-width="1.0"/>
<line x1="324.00" y1="623.70" x2="329.00" y2="623.70" stroke="#d43a52" stroke-width="1.0"/>
<line x1="324.00" y1="622.98" x2="329.00" y2="622.98" stroke="#d43a52" stroke-width="1.0"/>
<line x1="324.00" y1="624.42" x2="329.00" y2="624.42" stroke="#d43a52" stroke-width="1.0"/>
<path d="M325.50,622.93L326.93,625.34L324.07,625.34Z" fill="#d0203c"/>
<path d="M327.50,622.93L328.93,625.34L326.07,625.34Z" fill="#d0203c"/>
<path d="M326.50,621.73L327.93,624.14L325.07,624.14Z" fill="#d0203c"/>
<line x1="340.40" y1="568.50" x2="340.40" y2="585.90" stroke="#2a64a0" stroke-width="1.0"/>
<line x1="336.90" y1="578.10" x2="343.90" y2="578.10" stroke="#2a64a0" stroke-width="1.0"/>
<line x1="337.90" y1="568.50" x2="342.90" y2="568.50" stroke="#2a64a0" stroke-width="1.0"/>
<line x1="337.90" y1="585.90" x2="342.90" y2="585.90" stroke="#2a64a0" stroke-width="1.0"/>
<circle cx="340.40" cy="568.50" r="1.45" fill="#0c3f7e"/>
<circle cx="340.40" cy="581.10" r="1.45" fill="#0c3f7e"/>
<circle cx="340.40" cy="585.90" r="1.45" fill="#0c3f7e"/>
<line x1="348.70" y1="581.46" x2="348.70" y2="583.14" stroke="#d43a52" stroke-width="1.0"/>
<line x1="346.20" y1="582.30" x2="351.20" y2="582.30" stroke="#d43a52" stroke-width="1.0"/>
<line x1="346.20" y1="581.46" x2="351.20" y2="581.46" stroke="#d43a52" stroke-width="1.0"/>
<line x1="346.20" y1="583.14" x2="351.20" y2="583.14" stroke="#d43a52" stroke-width="1.0"/>
<path d="M347.50,580.57L348.93,582.98L346.07,582.98Z" fill="#d0203c"/>
<path d="M349.90,580.57L351.33,582.98L348.47,582.98Z" fill="#d0203c"/>
<path d="M348.70,583.33L350.13,585.74L347.27,585.74Z" fill="#d0203c"/>
<line x1="362.50" y1="640.50" x2="362.50" y2="647.70" stroke="#2a64a0" stroke-width="1.0"/>
<line x1="359.00" y1="644.10" x2="366.00" y2="644.10" stroke="#2a64a0" stroke-width="1.0"/>
<line x1="360.00" y1="640.50" x2="365.00" y2="640.50" stroke="#2a64a0" stroke-width="1.0"/>
<line x1="360.00" y1="647.70" x2="365.00" y2="647.70" stroke="#2a64a0" stroke-width="1.0"/>
<circle cx="362.50" cy="640.50" r="1.45" fill="#0c3f7e"/>
<circle cx="362.50" cy="648.30" r="1.45" fill="#0c3f7e"/>
<line x1="370.80" y1="646.14" x2="370.80" y2="646.86" stroke="#d43a52" stroke-width="1.0"/>
<line x1="368.30" y1="646.50" x2="373.30" y2="646.50" stroke="#d43a52" stroke-width="1.0"/>
<line x1="368.30" y1="646.14" x2="373.30" y2="646.14" stroke="#d43a52" stroke-width="1.0"/>
<line x1="368.30" y1="646.86" x2="373.30" y2="646.86" stroke="#d43a52" stroke-width="1.0"/>
<path d="M369.00,645.38L370.43,647.78L367.57,647.78Z" fill="#d0203c"/>
<path d="M371.00,644.77L372.43,647.18L369.57,647.18Z" fill="#d0203c"/>
<path d="M372.80,645.25L374.23,647.66L371.37,647.66Z" fill="#d0203c"/>
<circle cx="435.30" cy="293.50" r="2.0" fill="#0c3f7e"/>
<text x="440.50" y="296.00" font-size="7.2" text-anchor="start" fill="#1a1a1a" stroke="#1a1a1a" stroke-width="0.1" textLength="19.9" lengthAdjust="spacingAndGlyphs">WT=9</text>
<path d="M435.30,300.50L437.50,304.30L433.10,304.30Z" fill="#d0203c"/>
<text x="440.50" y="305.20" font-size="7.2" text-anchor="start" fill="#1a1a1a" stroke="#1a1a1a" stroke-width="0.1" textLength="23.1" lengthAdjust="spacingAndGlyphs">KO=12</text>
<circle cx="483.10" cy="422.70" r="2.0" fill="#0c3f7e"/>
<text x="488.30" y="425.20" font-size="7.2" text-anchor="start" fill="#1a1a1a" stroke="#1a1a1a" stroke-width="0.1" textLength="19.6" lengthAdjust="spacingAndGlyphs">WT=9</text>
<path d="M483.10,430.00L485.30,433.80L480.90,433.80Z" fill="#d0203c"/>
<text x="488.30" y="434.70" font-size="7.2" text-anchor="start" fill="#1a1a1a" stroke="#1a1a1a" stroke-width="0.1" textLength="22.5" lengthAdjust="spacingAndGlyphs">KO=12</text>
<circle cx="435.30" cy="557.50" r="2.0" fill="#0c3f7e"/>
<text x="440.50" y="560.00" font-size="7.2" text-anchor="start" fill="#1a1a1a" stroke="#1a1a1a" stroke-width="0.1" textLength="19.6" lengthAdjust="spacingAndGlyphs">WT=3</text>
<path d="M435.30,564.70L437.50,568.50L433.10,568.50Z" fill="#d0203c"/>
<text x="440.50" y="569.40" font-size="7.2" text-anchor="start" fill="#1a1a1a" stroke="#1a1a1a" stroke-width="0.1" textLength="18.4" lengthAdjust="spacingAndGlyphs">KO=3</text>
<g transform="translate(38.90,149.00)"><path d="M0,0 C2.2,5 10.2,13.5 10.2,20.8 C10.2,26.4 5.6,30.2 0,30.2 C-5.6,30.2 -10.2,26.4 -10.2,20.8 C-10.2,13.5 -2.2,5 0,0Z" fill="#e2262c"/><path d="M0,0 C2.2,5 10.2,13.5 10.2,20.8 C10.2,26.4 5.6,30.2 0,30.2 C4,27 5.5,22 4.5,15 C3.8,9 1.5,4 0,0Z" fill="#c81d25" opacity="0.7"/><path d="M-4.2,10 C-5.2,12 -6,14 -6.3,16 L-5.3,16.2 C-4.8,14 -4.2,12 -3.4,10.4Z" fill="#f4a0a0" opacity="0.9"/></g>
<g transform="translate(38.90,281.20)"><path d="M0,0 C2.2,5 10.2,13.5 10.2,20.8 C10.2,26.4 5.6,30.2 0,30.2 C-5.6,30.2 -10.2,26.4 -10.2,20.8 C-10.2,13.5 -2.2,5 0,0Z" fill="#e2262c"/><path d="M0,0 C2.2,5 10.2,13.5 10.2,20.8 C10.2,26.4 5.6,30.2 0,30.2 C4,27 5.5,22 4.5,15 C3.8,9 1.5,4 0,0Z" fill="#c81d25" opacity="0.7"/><path d="M-4.2,10 C-5.2,12 -6,14 -6.3,16 L-5.3,16.2 C-4.8,14 -4.2,12 -3.4,10.4Z" fill="#f4a0a0" opacity="0.9"/></g>
<g transform="translate(38.90,418.70)"><path d="M0,0 C2.2,5 10.2,13.5 10.2,20.8 C10.2,26.4 5.6,30.2 0,30.2 C-5.6,30.2 -10.2,26.4 -10.2,20.8 C-10.2,13.5 -2.2,5 0,0Z" fill="#e2262c"/><path d="M0,0 C2.2,5 10.2,13.5 10.2,20.8 C10.2,26.4 5.6,30.2 0,30.2 C4,27 5.5,22 4.5,15 C3.8,9 1.5,4 0,0Z" fill="#c81d25" opacity="0.7"/><path d="M-4.2,10 C-5.2,12 -6,14 -6.3,16 L-5.3,16.2 C-4.8,14 -4.2,12 -3.4,10.4Z" fill="#f4a0a0" opacity="0.9"/></g>
<text x="6.20" y="15.20" font-size="11.5" text-anchor="start" font-weight="bold" fill="#000" stroke="#000" stroke-width="0.2">A</text>
<text x="6.20" y="145.00" font-size="11.5" text-anchor="start" font-weight="bold" fill="#000" stroke="#000" stroke-width="0.2">B</text>
<text x="6.20" y="277.00" font-size="11.5" text-anchor="start" font-weight="bold" fill="#000" stroke="#000" stroke-width="0.2">C</text>
<text x="6.20" y="409.00" font-size="11.5" text-anchor="start" font-weight="bold" fill="#000" stroke="#000" stroke-width="0.2">D</text>
<text x="6.20" y="542.30" font-size="11.5" text-anchor="start" font-weight="bold" fill="#000" stroke="#000" stroke-width="0.2">E</text>
<path d="M39.7,557.5 C38.5,555.2 35.5,554.5 33.6,555.6 C31.2,557 31.3,561 33.3,562.4 C34.5,563.3 35.4,563.6 35.6,565 C36.5,569 37.7,573 37.6,577 C37.5,581 36.8,584 36.2,586.5 C35.8,587.5 34.5,587.8 33.4,588.8 C31.5,590.5 32,594.5 34.6,595.6 C36.7,596.5 38.7,595 39.8,593.3 C41,595 43.5,596.3 45.6,595.5 C48,594.5 48.3,590.5 46.3,588.8 C45,587.8 43.6,587.5 43,585.8 C42,582 41,579 41.1,575.8 C41.2,572 42.3,568 43.2,564.6 C43.5,563.5 44.6,563 45.6,562.4 C48,561 48.5,557 46.2,555.4 C44,554 41,555 39.7,557.5Z" fill="#fbfbfb" stroke="#8c8c8c" stroke-width="0.9"/>
<text x="61.5" y="28.6" font-size="9.2" text-anchor="middle" fill="#1a1a1a" stroke="#1a1a1a" stroke-width="0.12" textLength="31.4" lengthAdjust="spacingAndGlyphs">CD45.2</text>
<text x="42" y="40.1" font-size="9.2" fill="#1a1a1a" stroke="#1a1a1a" stroke-width="0.12" textLength="40.3" lengthAdjust="spacingAndGlyphs">WT or <tspan fill="#d4203c" stroke="#d4203c">KO</tspan></text>
<text x="60.8" y="51.1" font-size="9.2" text-anchor="middle" fill="#1a1a1a" stroke="#1a1a1a" stroke-width="0.12" textLength="57.5" lengthAdjust="spacingAndGlyphs">Fetal liver cells</text>
<text x="33.8" y="89.2" font-size="9.2" text-anchor="start" fill="#1a1a1a" stroke="#1a1a1a" stroke-width="0.12" textLength="30.8" lengthAdjust="spacingAndGlyphs">CD45.1</text>
<text x="65.4" y="84.3" font-size="6.6" text-anchor="start" fill="#1a1a1a" stroke="#1a1a1a" stroke-width="0.12" textLength="17.7" lengthAdjust="spacingAndGlyphs">STEM</text>
<text x="57.9" y="99.7" font-size="9.2" text-anchor="middle" fill="#1a1a1a" stroke="#1a1a1a" stroke-width="0.12" textLength="20.3" lengthAdjust="spacingAndGlyphs">Bone</text>
<text x="56.6" y="108.5" font-size="9.2" text-anchor="middle" fill="#1a1a1a" stroke="#1a1a1a" stroke-width="0.12" textLength="28.5" lengthAdjust="spacingAndGlyphs">marrow</text>
<g transform="translate(98,12) scale(0.08078)" stroke="#222" stroke-linecap="round" stroke-linejoin="round"><path d="M150,130 C152,105 165,80 200,62 C235,45 290,38 335,42 C370,48 405,75 430,115 C458,160 474,220 478,300 C481,380 470,460 440,525 C415,575 370,605 310,614 C250,620 195,600 155,570 C130,552 112,535 100,520" fill="none" stroke-width="11"/><path d="M150,130 C144,160 144,195 150,228 C138,240 126,255 130,272 C134,285 145,290 152,292 C138,298 128,305 125,318" fill="none" stroke-width="10"/><path d="M120,330 C112,345 125,355 118,368 M110,420 C95,418 85,430 82,442 C62,440 50,455 58,470 C42,480 45,500 62,505 C60,520 78,530 92,522 C100,535 120,535 128,522" fill="none" stroke-width="9"/><path d="M140,350 C150,342 165,345 175,352 M150,375 C160,368 175,370 185,380 M160,400 C150,392 140,395 135,405" fill="none" stroke-width="8"/><path d="M185,340 C220,330 260,332 300,340 M215,385 C245,372 285,365 320,370 C345,375 365,385 380,395" fill="none" stroke-width="8"/><path d="M120,440 C150,445 180,460 210,478 C225,486 235,490 240,492" fill="none" stroke-width="8"/><path d="M155,520 C175,535 195,552 212,570" fill="none" stroke-width="8"/><path d="M238,462 C240,445 252,432 265,425 C262,418 270,412 285,410 C310,406 340,412 365,428 C390,446 405,478 416,516 C390,522 350,520 300,512 C270,506 248,498 238,485 Z" fill="#d41f2a" stroke="none"/><circle cx="270" cy="200" r="13" fill="#555" stroke-width="8"/><circle cx="398" cy="212" r="8" fill="#555" stroke="none"/></g>
<path d="M152.6,50.8 C151.8,45.5 156,41.4 161.5,41.4 C166.5,41.6 169.5,47 171.6,52.6 C165,53.3 158,53.3 152.6,50.8Z" fill="#cc1f2a"/>
<g transform="translate(80.7,71.4) scale(0.1346)" stroke="#333" stroke-linecap="round" stroke-linejoin="round"><defs><linearGradient id="tailg" gradientUnits="userSpaceOnUse" x1="60" y1="0" x2="345" y2="0"><stop offset="0" stop-color="#d4d4d4"/><stop offset="0.45" stop-color="#8a8a8a"/><stop offset="1" stop-color="#1e1e1e"/></linearGradient></defs><path d="M118,272 C90,272 50,280 28,292 C18,298 18,306 30,312 C45,320 70,326 95,330" fill="none" stroke="#9c9c9c" stroke-width="4.5"/><path d="M118,280 C95,282 65,289 48,297 C40,302 42,308 55,312" fill="none" stroke="#b8b8b8" stroke-width="3.5"/><path d="M60,332 C100,340 160,340 232,339 C262,339 285,341 296,344 C315,348 328,354 336,362 C340,366 342,369 343,371" fill="none" stroke="url(#tailg)" stroke-width="10"/><path d="M348,114 C368,100 372,62 352,44 C335,30 305,32 293,58 C284,80 296,106 320,114 C330,117 338,117 342,116" fill="none" stroke-width="6.5"/><path d="M349,28 C358,20 375,18 388,26 C398,34 400,50 395,62" fill="none" stroke-width="6"/><path d="M379,68 C400,70 415,73 428,76 C445,82 465,90 477,98 C484,102 484,110 477,117 C465,126 455,130 444,136 C430,144 420,150 412,157 C405,165 400,172 398,179" fill="none" stroke-width="7"/><path d="M292,108 C272,97 250,97 230,104 C205,115 185,135 175,154 C162,180 152,200 146,219 C140,240 133,252 128,262 C122,272 117,280 118,285" fill="none" stroke-width="7"/><path d="M118,285 C125,290 135,291 140,290 C155,293 200,300 232,304 C238,306 242,312 243,319" fill="none" stroke-width="5.5"/><path d="M225,219 C230,230 234,240 236,247 C240,262 242,272 243,283 C244,295 245,308 246,319" fill="none" stroke-width="6"/><path d="M264,254 C266,268 267,282 268,297 C270,306 273,313 276,319" fill="none" stroke-width="5"/><path d="M238,322 C250,326 265,327 280,324" fill="none" stroke-width="7"/><path d="M398,179 C392,195 385,210 382,219 C378,232 374,244 371,254 C366,268 362,280 361,290 C362,298 366,305 371,308 C375,309 379,307 382,304" fill="none" stroke-width="6.5"/><path d="M303,265 C315,260 328,259 336,262 C342,268 344,275 343,279 C341,284 338,288 336,290 M296,290 C306,289 316,288 325,289" fill="none" stroke-width="5"/><circle cx="413" cy="99" r="10" stroke="none" fill="#111"/></g>
<g transform="translate(238.0,55.0) scale(0.1346)" stroke="#333" stroke-linecap="round" stroke-linejoin="round"><defs><linearGradient id="tailg" gradientUnits="userSpaceOnUse" x1="60" y1="0" x2="345" y2="0"><stop offset="0" stop-color="#d4d4d4"/><stop offset="0.45" stop-color="#8a8a8a"/><stop offset="1" stop-color="#1e1e1e"/></linearGradient></defs><path d="M118,272 C90,272 50,280 28,292 C18,298 18,306 30,312 C45,320 70,326 95,330" fill="none" stroke="#9c9c9c" stroke-width="4.5"/><path d="M118,280 C95,282 65,289 48,297 C40,302 42,308 55,312" fill="none" stroke="#b8b8b8" stroke-width="3.5"/><path d="M60,332 C100,340 160,340 232,339 C262,339 285,341 296,344 C315,348 328,354 336,362 C340,366 342,369 343,371" fill="none" stroke="url(#tailg)" stroke-width="10"/><path d="M348,114 C368,100 372,62 352,44 C335,30 305,32 293,58 C284,80 296,106 320,114 C330,117 338,117 342,116" fill="none" stroke-width="6.5"/><path d="M349,28 C358,20 375,18 388,26 C398,34 400,50 395,62" fill="none" stroke-width="6"/><path d="M379,68 C400,70 415,73 428,76 C445,82 465,90 477,98 C484,102 484,110 477,117 C465,126 455,130 444,136 C430,144 420,150 412,157 C405,165 400,172 398,179" fill="none" stroke-width="7"/><path d="M292,108 C272,97 250,97 230,104 C205,115 185,135 175,154 C162,180 152,200 146,219 C140,240 133,252 128,262 C122,272 117,280 118,285" fill="none" stroke-width="7"/><path d="M118,285 C125,290 135,291 140,290 C155,293 200,300 232,304 C238,306 242,312 243,319" fill="none" stroke-width="5.5"/><path d="M225,219 C230,230 234,240 236,247 C240,262 242,272 243,283 C244,295 245,308 246,319" fill="none" stroke-width="6"/><path d="M264,254 C266,268 267,282 268,297 C270,306 273,313 276,319" fill="none" stroke-width="5"/><path d="M238,322 C250,326 265,327 280,324" fill="none" stroke-width="7"/><path d="M398,179 C392,195 385,210 382,219 C378,232 374,244 371,254 C366,268 362,280 361,290 C362,298 366,305 371,308 C375,309 379,307 382,304" fill="none" stroke-width="6.5"/><path d="M303,265 C315,260 328,259 336,262 C342,268 344,275 343,279 C341,284 338,288 336,290 M296,290 C306,289 316,288 325,289" fill="none" stroke-width="5"/><circle cx="413" cy="99" r="10" stroke="none" fill="#111"/></g>
<path d="M153.4,107.3 L167.9,104.2 C168.3,102.5 170,100.8 172.1,100.7 C174.5,100.6 176.9,102.2 176.9,104.5 C176.9,105.6 176,106.2 175.6,106.6 C176.5,107.2 177.2,108 176.9,109.3 C176.5,111.5 174.2,112.7 172.1,112.5 C170.6,112.3 169.6,111.5 169.3,110.6 L154.1,113.9 C153.8,115.5 152.5,117.4 149.4,117.5 C147,117.5 145.6,116 145.8,113.9 C145.9,113 146.3,112.5 146.6,112.3 C145.7,111.5 145.6,110.2 146.1,109.2 C146.8,107 148.5,105.6 150.2,105.6 C151.8,105.7 153,106.3 153.4,107.3Z" fill="#e6dede" stroke="#333" stroke-width="1.1"/>
<path d="M184.4,47.4 C184.6,66 205,77 235.5,79 M184.4,110.7 C184.6,92 205,81 235.5,79" fill="none" stroke="#111" stroke-width="1.3"/>
<path d="M241.2,79 L234.6,75.2 L234.6,82.8Z" fill="#111"/>
<text x="276.4" y="37.7" font-size="9.2" text-anchor="middle" fill="#1a1a1a" stroke="#1a1a1a" stroke-width="0.12" textLength="36.4" lengthAdjust="spacingAndGlyphs">Irradiated</text>
<text x="277.0" y="47.6" font-size="9.2" text-anchor="middle" fill="#1a1a1a" stroke="#1a1a1a" stroke-width="0.12" textLength="38.5" lengthAdjust="spacingAndGlyphs">recipients</text>
<path d="M311.6,30.5 L318.3,34.5 L312.8,39.3 L314.4,40.4 L310.2,45.5 L310.9,46.5 L302.2,53.2 L307.0,43.9 L306.1,42.8 L309.5,37.9 L308.8,36.5Z" fill="#f08a2c" stroke="#111" stroke-width="1.0" stroke-linejoin="round"/>
<text x="247.5" y="119.0" font-size="9.2" text-anchor="start" fill="#1a1a1a" stroke="#1a1a1a" stroke-width="0.12" textLength="29.7" lengthAdjust="spacingAndGlyphs">CD45.1</text>
<text x="278.9" y="115.1" font-size="7.0" text-anchor="start" fill="#1a1a1a" stroke="#1a1a1a" stroke-width="0.12" textLength="18.5" lengthAdjust="spacingAndGlyphs">STEM</text>
<line x1="309.7" y1="81.9" x2="398" y2="81.9" stroke="#111" stroke-width="1.2"/>
<path d="M402.8,81.9 L396.6,78.4 L396.6,85.4Z" fill="#111"/>
<text x="355.4" y="77.6" font-size="9.2" text-anchor="middle" fill="#1a1a1a" stroke="#1a1a1a" stroke-width="0.12" textLength="39.2" lengthAdjust="spacingAndGlyphs">Peripheral</text>
<text x="355.6" y="93.9" font-size="9.2" text-anchor="middle" fill="#1a1a1a" stroke="#1a1a1a" stroke-width="0.12" textLength="48" lengthAdjust="spacingAndGlyphs">blood check</text>
<defs><radialGradient id="g1" cx="0.62" cy="0.5" r="0.6"><stop offset="0" stop-color="#0f6a58"/><stop offset="0.45" stop-color="#2a806c"/><stop offset="0.8" stop-color="#7fb5a6"/><stop offset="1" stop-color="#cfe4dd"/></radialGradient><radialGradient id="g2" cx="0.66" cy="0.52" r="0.6"><stop offset="0" stop-color="#0f6a58"/><stop offset="0.35" stop-color="#3a8a78"/><stop offset="0.7" stop-color="#a8cfc4"/><stop offset="1" stop-color="#ffffff"/></radialGradient></defs>
<path transform="translate(0.00,0.00) scale(1.000)" d="M442.9,54.3 C447,53 453,52.4 458.1,53.1 C461.5,54.5 464.5,59 464.9,64.9 C465.3,71 464,77 461.5,80.5 C459,83.3 455,84.2 451.4,84 C447,83.8 442,82.3 436.2,79.3 C432,76.5 429.3,71 429.4,67.5 C429.6,64 432,61 435.3,59 C437.8,57 440,55.3 442.9,54.3Z" fill="#2a7d6a" fill-opacity="0.08" stroke="#2a7d6a" stroke-width="0.40" stroke-opacity="0.55"/>
<path transform="translate(28.30,4.15) scale(0.938)" d="M442.9,54.3 C447,53 453,52.4 458.1,53.1 C461.5,54.5 464.5,59 464.9,64.9 C465.3,71 464,77 461.5,80.5 C459,83.3 455,84.2 451.4,84 C447,83.8 442,82.3 436.2,79.3 C432,76.5 429.3,71 429.4,67.5 C429.6,64 432,61 435.3,59 C437.8,57 440,55.3 442.9,54.3Z" fill="#2a7d6a" fill-opacity="0.08" stroke="#2a7d6a" stroke-width="0.43" stroke-opacity="0.55"/>
<path transform="translate(56.61,8.31) scale(0.876)" d="M442.9,54.3 C447,53 453,52.4 458.1,53.1 C461.5,54.5 464.5,59 464.9,64.9 C465.3,71 464,77 461.5,80.5 C459,83.3 455,84.2 451.4,84 C447,83.8 442,82.3 436.2,79.3 C432,76.5 429.3,71 429.4,67.5 C429.6,64 432,61 435.3,59 C437.8,57 440,55.3 442.9,54.3Z" fill="#2a7d6a" fill-opacity="0.2" stroke="#2a7d6a" stroke-width="0.46" stroke-opacity="0.55"/>
<path transform="translate(84.91,12.46) scale(0.814)" d="M442.9,54.3 C447,53 453,52.4 458.1,53.1 C461.5,54.5 464.5,59 464.9,64.9 C465.3,71 464,77 461.5,80.5 C459,83.3 455,84.2 451.4,84 C447,83.8 442,82.3 436.2,79.3 C432,76.5 429.3,71 429.4,67.5 C429.6,64 432,61 435.3,59 C437.8,57 440,55.3 442.9,54.3Z" fill="#2a7d6a" fill-opacity="0.2" stroke="#2a7d6a" stroke-width="0.49" stroke-opacity="0.55"/>
<path transform="translate(113.21,16.62) scale(0.752)" d="M442.9,54.3 C447,53 453,52.4 458.1,53.1 C461.5,54.5 464.5,59 464.9,64.9 C465.3,71 464,77 461.5,80.5 C459,83.3 455,84.2 451.4,84 C447,83.8 442,82.3 436.2,79.3 C432,76.5 429.3,71 429.4,67.5 C429.6,64 432,61 435.3,59 C437.8,57 440,55.3 442.9,54.3Z" fill="#2a7d6a" fill-opacity="0.2" stroke="#2a7d6a" stroke-width="0.53" stroke-opacity="0.55"/>
<path transform="translate(141.52,20.77) scale(0.690)" d="M442.9,54.3 C447,53 453,52.4 458.1,53.1 C461.5,54.5 464.5,59 464.9,64.9 C465.3,71 464,77 461.5,80.5 C459,83.3 455,84.2 451.4,84 C447,83.8 442,82.3 436.2,79.3 C432,76.5 429.3,71 429.4,67.5 C429.6,64 432,61 435.3,59 C437.8,57 440,55.3 442.9,54.3Z" fill="#2a7d6a" fill-opacity="0.2" stroke="#2a7d6a" stroke-width="0.58" stroke-opacity="0.55"/>
<path transform="translate(169.82,24.92) scale(0.628)" d="M442.9,54.3 C447,53 453,52.4 458.1,53.1 C461.5,54.5 464.5,59 464.9,64.9 C465.3,71 464,77 461.5,80.5 C459,83.3 455,84.2 451.4,84 C447,83.8 442,82.3 436.2,79.3 C432,76.5 429.3,71 429.4,67.5 C429.6,64 432,61 435.3,59 C437.8,57 440,55.3 442.9,54.3Z" fill="#2a7d6a" fill-opacity="0.2" stroke="#2a7d6a" stroke-width="0.64" stroke-opacity="0.55"/>
<path transform="translate(198.12,29.08) scale(0.566)" d="M442.9,54.3 C447,53 453,52.4 458.1,53.1 C461.5,54.5 464.5,59 464.9,64.9 C465.3,71 464,77 461.5,80.5 C459,83.3 455,84.2 451.4,84 C447,83.8 442,82.3 436.2,79.3 C432,76.5 429.3,71 429.4,67.5 C429.6,64 432,61 435.3,59 C437.8,57 440,55.3 442.9,54.3Z" fill="#2a7d6a" fill-opacity="0.2" stroke="#2a7d6a" stroke-width="0.71" stroke-opacity="0.55"/>
<path transform="translate(226.42,33.23) scale(0.504)" d="M442.9,54.3 C447,53 453,52.4 458.1,53.1 C461.5,54.5 464.5,59 464.9,64.9 C465.3,71 464,77 461.5,80.5 C459,83.3 455,84.2 451.4,84 C447,83.8 442,82.3 436.2,79.3 C432,76.5 429.3,71 429.4,67.5 C429.6,64 432,61 435.3,59 C437.8,57 440,55.3 442.9,54.3Z" fill="#2a7d6a" fill-opacity="0.2" stroke="#2a7d6a" stroke-width="0.79" stroke-opacity="0.55"/>
<path transform="translate(254.73,37.39) scale(0.442)" d="M442.9,54.3 C447,53 453,52.4 458.1,53.1 C461.5,54.5 464.5,59 464.9,64.9 C465.3,71 464,77 461.5,80.5 C459,83.3 455,84.2 451.4,84 C447,83.8 442,82.3 436.2,79.3 C432,76.5 429.3,71 429.4,67.5 C429.6,64 432,61 435.3,59 C437.8,57 440,55.3 442.9,54.3Z" fill="#2a7d6a" fill-opacity="0.2" stroke="#2a7d6a" stroke-width="0.90" stroke-opacity="0.55"/>
<path transform="translate(283.03,41.54) scale(0.380)" d="M442.9,54.3 C447,53 453,52.4 458.1,53.1 C461.5,54.5 464.5,59 464.9,64.9 C465.3,71 464,77 461.5,80.5 C459,83.3 455,84.2 451.4,84 C447,83.8 442,82.3 436.2,79.3 C432,76.5 429.3,71 429.4,67.5 C429.6,64 432,61 435.3,59 C437.8,57 440,55.3 442.9,54.3Z" fill="#2a7d6a" fill-opacity="0.2" stroke="#2a7d6a" stroke-width="1.05" stroke-opacity="0.55"/>
<path transform="translate(311.33,45.69) scale(0.318)" d="M442.9,54.3 C447,53 453,52.4 458.1,53.1 C461.5,54.5 464.5,59 464.9,64.9 C465.3,71 464,77 461.5,80.5 C459,83.3 455,84.2 451.4,84 C447,83.8 442,82.3 436.2,79.3 C432,76.5 429.3,71 429.4,67.5 C429.6,64 432,61 435.3,59 C437.8,57 440,55.3 442.9,54.3Z" fill="#2a7d6a" fill-opacity="0.2" stroke="#2a7d6a" stroke-width="1.26" stroke-opacity="0.55"/>
<path transform="translate(339.64,49.85) scale(0.256)" d="M442.9,54.3 C447,53 453,52.4 458.1,53.1 C461.5,54.5 464.5,59 464.9,64.9 C465.3,71 464,77 461.5,80.5 C459,83.3 455,84.2 451.4,84 C447,83.8 442,82.3 436.2,79.3 C432,76.5 429.3,71 429.4,67.5 C429.6,64 432,61 435.3,59 C437.8,57 440,55.3 442.9,54.3Z" fill="#2a7d6a" fill-opacity="0.2" stroke="#2a7d6a" stroke-width="1.56" stroke-opacity="0.55"/>
<path transform="translate(367.94,54.00) scale(0.194)" d="M442.9,54.3 C447,53 453,52.4 458.1,53.1 C461.5,54.5 464.5,59 464.9,64.9 C465.3,71 464,77 461.5,80.5 C459,83.3 455,84.2 451.4,84 C447,83.8 442,82.3 436.2,79.3 C432,76.5 429.3,71 429.4,67.5 C429.6,64 432,61 435.3,59 C437.8,57 440,55.3 442.9,54.3Z" fill="#2a7d6a" fill-opacity="0.2" stroke="#2a7d6a" stroke-width="2.06" stroke-opacity="0.55"/>
<path d="M439.5,67.8 C444,68.8 448,70.2 452.5,72.6" fill="none" stroke="#eef6f3" stroke-width="1.0" stroke-dasharray="1.2 0.8" opacity="0.85"/>
<path d="M455.8,63 C457.3,66 458.2,70 458,74" fill="none" stroke="#d8ebe5" stroke-width="0.8" stroke-dasharray="1 1" opacity="0.8"/>
<ellipse cx="461" cy="96.4" rx="4.8" ry="8.1" fill="#2a7d6a" fill-opacity="0.05" stroke="#2a7d6a" stroke-width="0.45" stroke-opacity="0.55"/>
<ellipse cx="461" cy="96.4" rx="3.9" ry="6.6" fill="#2a7d6a" fill-opacity="0.05" stroke="#2a7d6a" stroke-width="0.45" stroke-opacity="0.6"/>
<ellipse cx="461" cy="96.4" rx="3.0" ry="5.1" fill="#2a7d6a" fill-opacity="0.05" stroke="#2a7d6a" stroke-width="0.45" stroke-opacity="0.6"/>
<ellipse cx="461" cy="96.4" rx="2.1" ry="3.6" fill="#2a7d6a" fill-opacity="0.05" stroke="#2a7d6a" stroke-width="0.45" stroke-opacity="0.65"/>
<ellipse cx="461" cy="96.4" rx="1.2" ry="2.1" fill="#2a7d6a" fill-opacity="0.05" stroke="#2a7d6a" stroke-width="0.45" stroke-opacity="0.7"/>
<path transform="translate(0.00,0.00) scale(1.000)" d="M496,86.4 C502,86.6 506.8,91 507.2,98 C507.5,105 503.5,110.6 497,110.8 C490,111 483,105 482.2,98.5 C482,92 489,86.2 496,86.4Z" fill="#2a7d6a" fill-opacity="0.0" stroke="#2a7d6a" stroke-width="0.40" stroke-opacity="0.6"/>
<path transform="translate(34.93,6.95) scale(0.930)" d="M496,86.4 C502,86.6 506.8,91 507.2,98 C507.5,105 503.5,110.6 497,110.8 C490,111 483,105 482.2,98.5 C482,92 489,86.2 496,86.4Z" fill="#2a7d6a" fill-opacity="0.0" stroke="#2a7d6a" stroke-width="0.43" stroke-opacity="0.6"/>
<path transform="translate(69.86,13.90) scale(0.860)" d="M496,86.4 C502,86.6 506.8,91 507.2,98 C507.5,105 503.5,110.6 497,110.8 C490,111 483,105 482.2,98.5 C482,92 489,86.2 496,86.4Z" fill="#2a7d6a" fill-opacity="0.0" stroke="#2a7d6a" stroke-width="0.47" stroke-opacity="0.6"/>
<path transform="translate(104.79,20.85) scale(0.790)" d="M496,86.4 C502,86.6 506.8,91 507.2,98 C507.5,105 503.5,110.6 497,110.8 C490,111 483,105 482.2,98.5 C482,92 489,86.2 496,86.4Z" fill="#2a7d6a" fill-opacity="0.0" stroke="#2a7d6a" stroke-width="0.51" stroke-opacity="0.6"/>
<path transform="translate(139.72,27.80) scale(0.720)" d="M496,86.4 C502,86.6 506.8,91 507.2,98 C507.5,105 503.5,110.6 497,110.8 C490,111 483,105 482.2,98.5 C482,92 489,86.2 496,86.4Z" fill="#2a7d6a" fill-opacity="0.19" stroke="#2a7d6a" stroke-width="0.56" stroke-opacity="0.6"/>
<path transform="translate(174.65,34.76) scale(0.650)" d="M496,86.4 C502,86.6 506.8,91 507.2,98 C507.5,105 503.5,110.6 497,110.8 C490,111 483,105 482.2,98.5 C482,92 489,86.2 496,86.4Z" fill="#2a7d6a" fill-opacity="0.19" stroke="#2a7d6a" stroke-width="0.62" stroke-opacity="0.6"/>
<path transform="translate(209.58,41.71) scale(0.580)" d="M496,86.4 C502,86.6 506.8,91 507.2,98 C507.5,105 503.5,110.6 497,110.8 C490,111 483,105 482.2,98.5 C482,92 489,86.2 496,86.4Z" fill="#2a7d6a" fill-opacity="0.19" stroke="#2a7d6a" stroke-width="0.69" stroke-opacity="0.6"/>
<path transform="translate(244.51,48.66) scale(0.510)" d="M496,86.4 C502,86.6 506.8,91 507.2,98 C507.5,105 503.5,110.6 497,110.8 C490,111 483,105 482.2,98.5 C482,92 489,86.2 496,86.4Z" fill="#2a7d6a" fill-opacity="0.19" stroke="#2a7d6a" stroke-width="0.78" stroke-opacity="0.6"/>
<path transform="translate(279.44,55.61) scale(0.440)" d="M496,86.4 C502,86.6 506.8,91 507.2,98 C507.5,105 503.5,110.6 497,110.8 C490,111 483,105 482.2,98.5 C482,92 489,86.2 496,86.4Z" fill="#2a7d6a" fill-opacity="0.19" stroke="#2a7d6a" stroke-width="0.91" stroke-opacity="0.6"/>
<path transform="translate(314.37,62.56) scale(0.370)" d="M496,86.4 C502,86.6 506.8,91 507.2,98 C507.5,105 503.5,110.6 497,110.8 C490,111 483,105 482.2,98.5 C482,92 489,86.2 496,86.4Z" fill="#2a7d6a" fill-opacity="0.19" stroke="#2a7d6a" stroke-width="1.08" stroke-opacity="0.6"/>
<path transform="translate(349.30,69.51) scale(0.300)" d="M496,86.4 C502,86.6 506.8,91 507.2,98 C507.5,105 503.5,110.6 497,110.8 C490,111 483,105 482.2,98.5 C482,92 489,86.2 496,86.4Z" fill="#2a7d6a" fill-opacity="0.19" stroke="#2a7d6a" stroke-width="1.33" stroke-opacity="0.6"/>
<path transform="translate(384.23,76.46) scale(0.230)" d="M496,86.4 C502,86.6 506.8,91 507.2,98 C507.5,105 503.5,110.6 497,110.8 C490,111 483,105 482.2,98.5 C482,92 489,86.2 496,86.4Z" fill="#2a7d6a" fill-opacity="0.19" stroke="#2a7d6a" stroke-width="1.74" stroke-opacity="0.6"/>
<path transform="translate(419.16,83.41) scale(0.160)" d="M496,86.4 C502,86.6 506.8,91 507.2,98 C507.5,105 503.5,110.6 497,110.8 C490,111 483,105 482.2,98.5 C482,92 489,86.2 496,86.4Z" fill="#2a7d6a" fill-opacity="0.19" stroke="#2a7d6a" stroke-width="2.50" stroke-opacity="0.6"/>
<circle cx="499" cy="99.3" r="0.6" fill="#e8f3ef"/>
<rect x="427.9" y="50.5" width="39.4" height="36.1" fill="none" stroke="#c8283c" stroke-width="1"/>
<rect x="479.3" y="84.4" width="30.4" height="28.8" fill="none" stroke="#c8283c" stroke-width="1"/>
<rect x="427.3" y="31.9" width="84" height="84" fill="none" stroke="#111" stroke-width="1.2"/>
<text x="447.8" y="47.8" font-size="8.0" text-anchor="middle" fill="#c8283c" stroke="#c8283c" stroke-width="0.12" textLength="29.9" lengthAdjust="spacingAndGlyphs">Fetal liver</text>
<text x="494.0" y="73.5" font-size="8.2" text-anchor="middle" fill="#2a7d6a" stroke="#2a7d6a" stroke-width="0.12" textLength="22" lengthAdjust="spacingAndGlyphs">Helper</text>
<text x="493.9" y="82.8" font-size="8.2" text-anchor="middle" fill="#2a7d6a" stroke="#2a7d6a" stroke-width="0.12" textLength="20.8" lengthAdjust="spacingAndGlyphs">&amp; host</text>
<text x="470.0" y="129.9" font-size="9.6" text-anchor="middle" fill="#2a7d6a" stroke="#2a7d6a" stroke-width="0.12" textLength="30.9" lengthAdjust="spacingAndGlyphs">CD45.1</text>
<text x="422.2" y="74.4" font-size="11.2" text-anchor="middle" fill="#c8283c" stroke="#c8283c" stroke-width="0.12" textLength="31.6" lengthAdjust="spacingAndGlyphs" transform="rotate(-90 422.2 74.4)">CD45.2</text>
<rect x="0.75" y="0.75" width="518.5" height="675.5" fill="none" stroke="#000" stroke-width="1.5"/>
</svg>
</body></html>
